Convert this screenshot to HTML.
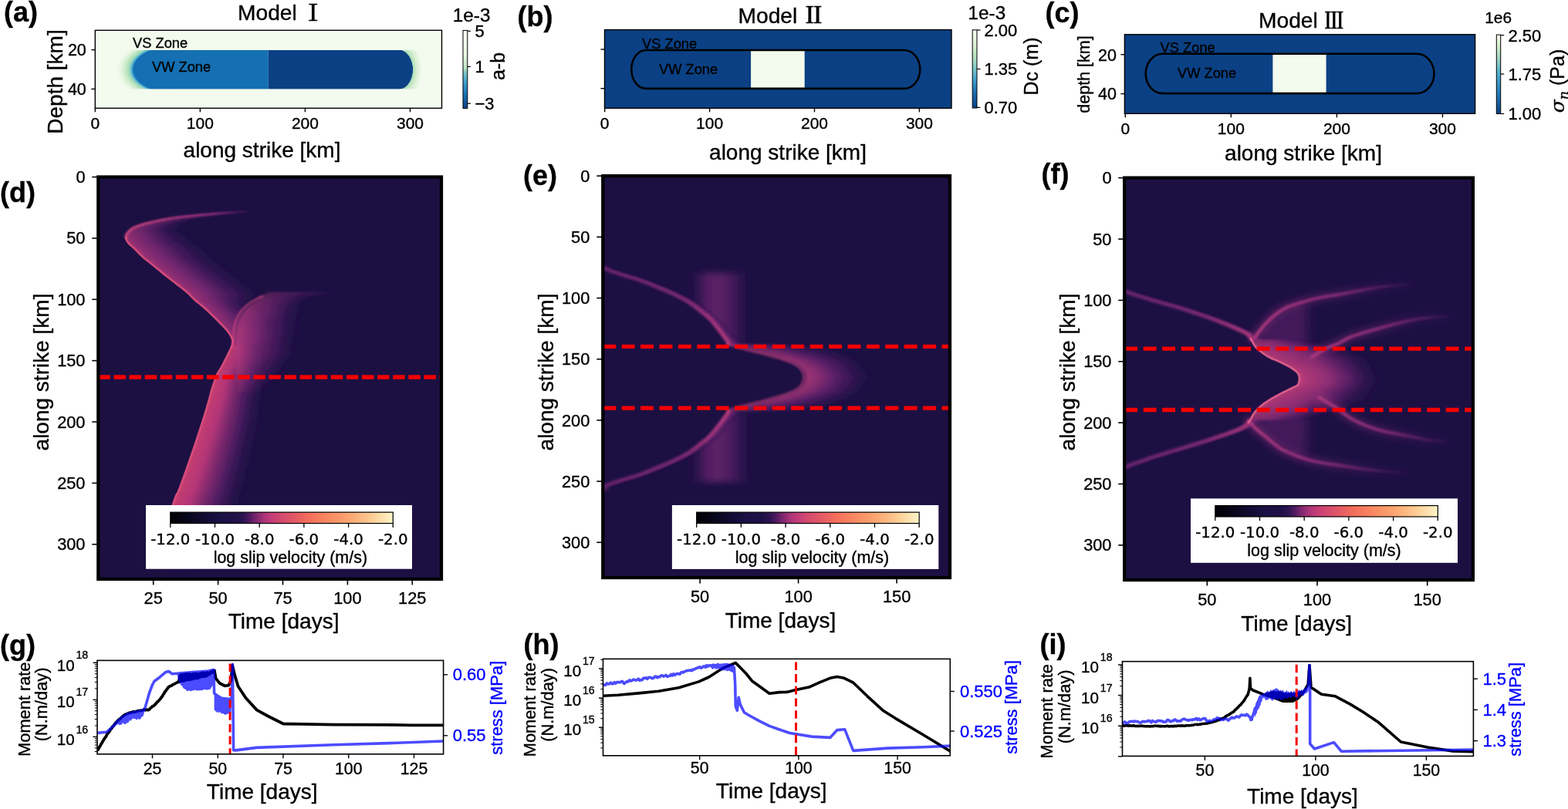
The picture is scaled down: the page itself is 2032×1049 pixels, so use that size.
<!DOCTYPE html>
<html><head><meta charset="utf-8"><title>Figure</title>
<style>html,body{margin:0;padding:0;background:#fff;overflow:hidden}svg{display:block}text{stroke:#000;stroke-width:0.35px}text[fill="#0000ff"]{stroke:#0000ff}</style>
</head><body>
<svg width="2032" height="1049" viewBox="0 0 2032 1049" font-family="Liberation Sans, Arial, sans-serif" fill="#000">
<defs>
<clipPath id="pac"><rect x="123.3" y="39.3" width="449.2" height="101"/></clipPath>
<radialGradient id="gaL" gradientUnits="userSpaceOnUse" cx="223" cy="90.2" r="72" gradientTransform="translate(223 90.2) scale(1 0.59) translate(-223 -90.2)">
<stop offset="0" stop-color="#1470b2"/><stop offset="0.695" stop-color="#1470b2"/><stop offset="0.725" stop-color="#4aafd5"/><stop offset="0.77" stop-color="#9fd8b8"/><stop offset="0.84" stop-color="#c6e9c4"/><stop offset="0.92" stop-color="#e6f5e0"/><stop offset="1" stop-color="#f3faee"/></radialGradient>
<radialGradient id="gaR" gradientUnits="userSpaceOnUse" cx="516.7" cy="90.2" r="30" gradientTransform="translate(516.7 90.2) scale(1 1.4) translate(-516.7 -90.2)">
<stop offset="0" stop-color="#0b4184"/><stop offset="0.6" stop-color="#0b4184"/><stop offset="0.615" stop-color="#a9dcb6"/><stop offset="0.75" stop-color="#d2eccc"/><stop offset="1" stop-color="#f3faee"/></radialGradient>
<clipPath id="pbc"><rect x="783.5" y="38.6" width="449.5" height="101.7"/></clipPath>
<clipPath id="pcc"><rect x="1457.4" y="44.7" width="454.2" height="102.6"/></clipPath>
<linearGradient id="cba" x1="0" y1="1" x2="0" y2="0">
<stop offset="0" stop-color="#0b4184"/><stop offset="0.2" stop-color="#1f78b8"/><stop offset="0.35" stop-color="#44a5cf"/><stop offset="0.46" stop-color="#7cc9c6"/><stop offset="0.52" stop-color="#bfe5c0"/><stop offset="0.7" stop-color="#e8f6e2"/><stop offset="1" stop-color="#f7fcf0"/></linearGradient>
<linearGradient id="cbb" x1="0" y1="1" x2="0" y2="0">
<stop offset="0" stop-color="#0b4184"/><stop offset="0.2" stop-color="#1d6fb0"/><stop offset="0.35" stop-color="#3c9cca"/><stop offset="0.5" stop-color="#7bc8c6"/><stop offset="0.65" stop-color="#b5e2bd"/><stop offset="0.8" stop-color="#daf0d4"/><stop offset="1" stop-color="#f7fcf0"/></linearGradient>
<linearGradient id="cbc" x1="0" y1="1" x2="0" y2="0">
<stop offset="0" stop-color="#0b4184"/><stop offset="0.25" stop-color="#1f78b8"/><stop offset="0.5" stop-color="#4aaed1"/><stop offset="0.7" stop-color="#9dd6c0"/><stop offset="0.85" stop-color="#d2edcc"/><stop offset="1" stop-color="#f7fcf0"/></linearGradient>
<linearGradient id="cbm" x1="0" y1="0" x2="1" y2="0"><stop offset="0" stop-color="#000004"/><stop offset="0.08" stop-color="#07061a"/><stop offset="0.16" stop-color="#120c34"/><stop offset="0.22" stop-color="#1a1044"/><stop offset="0.3" stop-color="#201149"/><stop offset="0.33" stop-color="#2e1452"/><stop offset="0.36" stop-color="#531b62"/><stop offset="0.39" stop-color="#832872"/><stop offset="0.42" stop-color="#a93378"/><stop offset="0.45" stop-color="#c13c79"/><stop offset="0.5" stop-color="#d44a70"/><stop offset="0.56" stop-color="#e35a66"/><stop offset="0.62" stop-color="#f26d5c"/><stop offset="0.7" stop-color="#f98661"/><stop offset="0.8" stop-color="#fca46f"/><stop offset="0.9" stop-color="#fdcb92"/><stop offset="1" stop-color="#fdf5c8"/></linearGradient>
<linearGradient id="wA" x1="0" y1="0" x2="1" y2="0"><stop offset="0" stop-color="#e04d70"/><stop offset="0.03" stop-color="#cb3f74"/><stop offset="0.22" stop-color="#bc387a"/><stop offset="0.42" stop-color="#80286f"/><stop offset="0.65" stop-color="#461a5e"/><stop offset="1" stop-color="#1c1043" stop-opacity="0"/></linearGradient>
<linearGradient id="wB" x1="0" y1="0" x2="1" y2="0"><stop offset="0" stop-color="#c2407e"/><stop offset="0.1" stop-color="#a8337c"/><stop offset="0.4" stop-color="#6d2472"/><stop offset="0.7" stop-color="#3c1658" stop-opacity="0.8"/><stop offset="1" stop-color="#1c1043" stop-opacity="0"/></linearGradient>
<linearGradient id="wC" x1="0" y1="0" x2="1" y2="0"><stop offset="0" stop-color="#b03a7c" stop-opacity="0"/><stop offset="0.08" stop-color="#b43a7c"/><stop offset="0.35" stop-color="#8a2c78"/><stop offset="0.65" stop-color="#4c1a60"/><stop offset="1" stop-color="#1c1043" stop-opacity="0"/></linearGradient>
<linearGradient id="gC" x1="0" y1="0" x2="1" y2="0"><stop offset="0" stop-color="#1c1043" stop-opacity="0"/><stop offset="0.3" stop-color="#6a2370"/><stop offset="0.5" stop-color="#762a74"/><stop offset="0.75" stop-color="#4c1b62"/><stop offset="1" stop-color="#1c1043" stop-opacity="0"/></linearGradient>
<linearGradient id="wD" x1="0" y1="0" x2="1" y2="0"><stop offset="0" stop-color="#c0407e"/><stop offset="0.06" stop-color="#a2327a"/><stop offset="0.3" stop-color="#7a2874"/><stop offset="0.6" stop-color="#45195e" stop-opacity="0.85"/><stop offset="1" stop-color="#1c1043" stop-opacity="0"/></linearGradient>
<linearGradient id="wF" x1="0" y1="0" x2="1" y2="0"><stop offset="0" stop-color="#9a3079" stop-opacity="0.3"/><stop offset="0.05" stop-color="#b23a7c"/><stop offset="0.18" stop-color="#a3337b"/><stop offset="0.42" stop-color="#6a2372"/><stop offset="0.7" stop-color="#3e1659" stop-opacity="0.8"/><stop offset="1" stop-color="#1c1043" stop-opacity="0"/></linearGradient>
<linearGradient id="wE" x1="0" y1="0" x2="1" y2="0"><stop offset="0" stop-color="#d44a7c"/><stop offset="0.06" stop-color="#be3b7c"/><stop offset="0.35" stop-color="#9a3079"/><stop offset="0.62" stop-color="#5c1e68" stop-opacity="0.9"/><stop offset="1" stop-color="#1c1043" stop-opacity="0"/></linearGradient>
<clipPath id="clipd"><rect x="127.3" y="229.5" width="444.7" height="521.4"/></clipPath>
<filter id="bl0" x="-20%" y="-20%" width="140%" height="140%"><feGaussianBlur stdDeviation="0.5 0.9"/></filter>
<filter id="bl1" x="-20%" y="-20%" width="140%" height="140%"><feGaussianBlur stdDeviation="1.2 1.2"/></filter>
<filter id="bl2" x="-20%" y="-20%" width="140%" height="140%"><feGaussianBlur stdDeviation="1.0"/></filter>
<linearGradient id="dua" gradientUnits="userSpaceOnUse" x1="325" y1="0" x2="163" y2="0"><stop offset="0" stop-color="#6a2470" stop-opacity="0"/><stop offset="0.3" stop-color="#8a2c78"/><stop offset="1" stop-color="#d04880"/></linearGradient>
<filter id="bl3" x="-20%" y="-20%" width="140%" height="140%"><feGaussianBlur stdDeviation="0.8"/></filter>
<filter id="bl4" x="-20%" y="-20%" width="140%" height="140%"><feGaussianBlur stdDeviation="0.6"/></filter>
<clipPath id="clipe"><rect x="781.3" y="228.1" width="449.7" height="520.9"/></clipPath>
<clipPath id="ecr"><path d="M781 347.5 L781.27 347.64 L781.52 347.78 L782 348.02 L783.01 348.43 L784.8 349.1 L787.55 350.09 L791.07 351.35 L795.12 352.78 L799.44 354.26 L803.8 355.7 L808.19 357.03 L812.78 358.34 L817.57 359.69 L822.54 361.18 L827.7 362.9 L833.28 364.96 L839.28 367.31 L845.35 369.77 L851.14 372.16 L856.3 374.3 L860.68 376.12 L864.51 377.73 L868.02 379.25 L871.44 380.8 L875 382.5 L878.78 384.37 L882.64 386.33 L886.44 388.35 L890.06 390.39 L893.4 392.4 L896.36 394.38 L899.01 396.34 L901.5 398.32 L903.95 400.33 L906.5 402.4 L909.18 404.51 L911.9 406.63 L914.61 408.81 L917.26 411.09 L919.8 413.5 L922.26 416.14 L924.66 418.98 L926.98 421.89 L929.17 424.71 L931.2 427.3 L933.07 429.7 L934.81 431.99 L936.41 434.14 L937.84 436.09 L939.1 437.8 L940.12 439.2 L940.91 440.31 L941.56 441.25 L942.16 442.11 L942.8 443 L943.19 443.87 L943.28 444.66 L943.48 445.42 L944.25 446.25 L946 447.2 L948.92 448.31 L952.73 449.52 L957.15 450.8 L961.9 452.1 L966.7 453.4 L971.66 454.67 L976.95 455.94 L982.43 457.23 L987.96 458.58 L993.4 460 L998.95 461.55 L1004.72 463.2 L1010.38 464.9 L1015.61 466.55 L1020.1 468.1 L1023.74 469.49 L1026.74 470.78 L1029.27 472.03 L1031.47 473.31 L1033.5 474.7 L1035.34 476.23 L1036.88 477.87 L1038.16 479.53 L1039.22 481.17 L1040.1 482.7 L1040.76 484.11 L1041.17 485.44 L1041.39 486.73 L1041.48 488 L1041.5 489.3 L1041.48 490.6 L1041.39 491.87 L1041.17 493.16 L1040.76 494.49 L1040.1 495.9 L1039.22 497.43 L1038.16 499.07 L1036.88 500.73 L1035.34 502.37 L1033.5 503.9 L1031.47 505.29 L1029.27 506.57 L1026.74 507.82 L1023.74 509.11 L1020.1 510.5 L1015.61 512.05 L1010.38 513.7 L1004.72 515.4 L998.95 517.05 L993.4 518.6 L987.96 520.02 L982.43 521.37 L976.95 522.66 L971.66 523.93 L966.7 525.2 L961.9 526.5 L957.15 527.8 L952.73 529.08 L948.92 530.29 L946 531.4 L944.25 532.35 L943.48 533.18 L943.28 533.94 L943.19 534.73 L942.8 535.6 L942.16 536.49 L941.56 537.35 L940.91 538.29 L940.12 539.4 L939.1 540.8 L937.84 542.51 L936.41 544.46 L934.81 546.61 L933.07 548.9 L931.2 551.3 L929.17 553.89 L926.98 556.71 L924.66 559.62 L922.26 562.46 L919.8 565.1 L917.26 567.51 L914.61 569.79 L911.9 571.97 L909.18 574.09 L906.5 576.2 L903.95 578.27 L901.5 580.28 L899.01 582.26 L896.36 584.22 L893.4 586.2 L890.06 588.21 L886.44 590.25 L882.64 592.27 L878.78 594.23 L875 596.1 L871.44 597.8 L868.02 599.35 L864.51 600.87 L860.68 602.48 L856.3 604.3 L851.14 606.44 L845.35 608.83 L839.28 611.29 L833.28 613.64 L827.7 615.7 L822.54 617.42 L817.57 618.91 L812.78 620.26 L808.19 621.57 L803.8 622.9 L799.44 624.34 L795.12 625.82 L791.07 627.25 L787.55 628.51 L784.8 629.5 L783.01 630.17 L782 630.58 L781.52 630.82 L781.27 630.96 L781 631.1 L1240 631.1 L1240 347.5 Z"/></clipPath>
<filter id="bl5" x="-20%" y="-20%" width="140%" height="140%"><feGaussianBlur stdDeviation="5 4"/></filter>
<filter id="bl6" x="-20%" y="-20%" width="140%" height="140%"><feGaussianBlur stdDeviation="1.0 1.2"/></filter>
<filter id="bl7" x="-20%" y="-20%" width="140%" height="140%"><feGaussianBlur stdDeviation="1.6 1.4"/></filter>
<linearGradient id="eln" gradientUnits="userSpaceOnUse" x1="781" y1="0" x2="946" y2="0"><stop offset="0" stop-color="#6a2470"/><stop offset="0.6" stop-color="#7c2a74"/><stop offset="1" stop-color="#b53c7e"/></linearGradient>
<filter id="bl8" x="-20%" y="-20%" width="140%" height="140%"><feGaussianBlur stdDeviation="1.4"/></filter>
<filter id="bl9" x="-20%" y="-20%" width="140%" height="140%"><feGaussianBlur stdDeviation="1.6"/></filter>
<clipPath id="clipf"><rect x="1457.2" y="230.6" width="451.7" height="521.4"/></clipPath>
<filter id="bl10" x="-20%" y="-20%" width="140%" height="140%"><feGaussianBlur stdDeviation="7"/></filter>
<filter id="bl11" x="-20%" y="-20%" width="140%" height="140%"><feGaussianBlur stdDeviation="0.8 1.2"/></filter>
<linearGradient id="fa0" gradientUnits="userSpaceOnUse" x1="1626" y1="0" x2="1840" y2="0"><stop offset="0" stop-color="#a8387c"/><stop offset="0.5" stop-color="#8a2c78" stop-opacity="0.85"/><stop offset="1" stop-color="#6a2270" stop-opacity="0"/></linearGradient>
<filter id="bl12" x="-20%" y="-20%" width="140%" height="140%"><feGaussianBlur stdDeviation="4"/></filter>
<filter id="bl13" x="-20%" y="-20%" width="140%" height="140%"><feGaussianBlur stdDeviation="1.2"/></filter>
<linearGradient id="fa1" gradientUnits="userSpaceOnUse" x1="1700" y1="0" x2="1890" y2="0"><stop offset="0" stop-color="#a8387c"/><stop offset="0.5" stop-color="#8a2c78" stop-opacity="0.85"/><stop offset="1" stop-color="#6a2270" stop-opacity="0"/></linearGradient>
<linearGradient id="fa2" gradientUnits="userSpaceOnUse" x1="1618" y1="0" x2="1830" y2="0"><stop offset="0" stop-color="#a8387c"/><stop offset="0.5" stop-color="#8a2c78" stop-opacity="0.85"/><stop offset="1" stop-color="#6a2270" stop-opacity="0"/></linearGradient>
<linearGradient id="fa3" gradientUnits="userSpaceOnUse" x1="1709.6" y1="0" x2="1885" y2="0"><stop offset="0" stop-color="#a8387c"/><stop offset="0.5" stop-color="#8a2c78" stop-opacity="0.85"/><stop offset="1" stop-color="#6a2270" stop-opacity="0"/></linearGradient>
<linearGradient id="fln" gradientUnits="userSpaceOnUse" x1="1457" y1="0" x2="1625" y2="0"><stop offset="0" stop-color="#6a2470"/><stop offset="0.6" stop-color="#7c2a74"/><stop offset="1" stop-color="#b53c7e"/></linearGradient>
<filter id="bl14" x="-20%" y="-20%" width="140%" height="140%"><feGaussianBlur stdDeviation="0.5"/></filter>
<clipPath id="clipg"><rect x="126" y="856.4" width="448.6" height="121.4"/></clipPath>
<clipPath id="cliph"><rect x="781.5" y="854.4" width="449.8" height="125.4"/></clipPath>
<clipPath id="clipi"><rect x="1454.5" y="857.7" width="454.9" height="122.7"/></clipPath>
</defs>
<rect x="0" y="0" width="2032" height="1049" fill="#fff"/>
<g clip-path="url(#pac)">
<rect x="123.3" y="39.3" width="449.2" height="101" fill="#f3faee" />
<rect x="140" y="65" width="83.5" height="50.4" fill="url(#gaL)" />
<rect x="223" y="65" width="124.8" height="50.4" fill="#1470b2" />
<rect x="347.8" y="65" width="169.2" height="50.4" fill="#0b4184" />
<rect x="516.7" y="65" width="43.3" height="50.4" fill="url(#gaR)" />
</g>
<rect x="123.3" y="39.3" width="449.2" height="101" fill="none" stroke="#000" stroke-width="1.4" />
<g clip-path="url(#pbc)">
<rect x="783.5" y="38.6" width="449.5" height="101.7" fill="#0b4184" />
<rect x="973.1" y="65.6" width="69.6" height="48.8" fill="#f3faee" />
<path d="M837.2 65 L1171.7 65 A20.6 24.95 0 0 1 1171.7 114.9 L837.2 114.9 A18.9 24.95 0 0 1 837.2 65 Z" fill="none" stroke="#000" stroke-width="2.6"/>
</g>
<rect x="783.5" y="38.6" width="449.5" height="101.7" fill="none" stroke="#000" stroke-width="1.4" />
<g clip-path="url(#pcc)">
<rect x="1457.4" y="44.7" width="454.2" height="102.6" fill="#0b4184" />
<rect x="1649.4" y="70.6" width="69.2" height="49.7" fill="#f3faee" />
<path d="M1506.7 69.8 L1836 69.8 A22.5 25.65 0 0 1 1836 121.1 L1506.7 121.1 A22 25.65 0 0 1 1506.7 69.8 Z" fill="none" stroke="#000" stroke-width="2.6"/>
</g>
<rect x="1457.4" y="44.7" width="454.2" height="102.6" fill="none" stroke="#000" stroke-width="1.4" />
<line x1="123.3" y1="140.3" x2="123.3" y2="145.3" stroke="#000" stroke-width="1.4" />
<text x="123.3" y="166.6" font-size="21" text-anchor="middle">0</text>
<line x1="259.36" y1="140.3" x2="259.36" y2="145.3" stroke="#000" stroke-width="1.4" />
<text x="259.36" y="166.6" font-size="21" text-anchor="middle">100</text>
<line x1="395.42" y1="140.3" x2="395.42" y2="145.3" stroke="#000" stroke-width="1.4" />
<text x="395.42" y="166.6" font-size="21" text-anchor="middle">200</text>
<line x1="531.48" y1="140.3" x2="531.48" y2="145.3" stroke="#000" stroke-width="1.4" />
<text x="531.48" y="166.6" font-size="21" text-anchor="middle">300</text>
<line x1="118.3" y1="64.6" x2="123.3" y2="64.6" stroke="#000" stroke-width="1.4" />
<text x="111.8" y="72.4" font-size="21.5" text-anchor="end">20</text>
<line x1="118.3" y1="115.4" x2="123.3" y2="115.4" stroke="#000" stroke-width="1.4" />
<text x="111.8" y="123.2" font-size="21.5" text-anchor="end">40</text>
<text x="81" y="106" font-size="28" text-anchor="middle" transform="rotate(-90 81 106)">Depth [km]</text>
<text x="339.5" y="203.8" font-size="28" text-anchor="middle">along strike [km]</text>
<text x="172" y="62.3" font-size="18.3">VS Zone</text>
<text x="197" y="92.7" font-size="18.3">VW Zone</text>
<text x="308" y="26.2" font-size="28.2">Model</text>
<text x="391.4" y="27" font-size="28.5" font-family="'Liberation Sans', 'Noto Serif CJK SC', serif" font-weight="600">Ⅰ</text>
<text x="5" y="27.5" font-size="36" font-weight="bold">(a)</text>
<rect x="600" y="39.4" width="5.8" height="101.1" fill="url(#cba)" stroke="#000" stroke-width="1" />
<line x1="605.8" y1="40.3" x2="610" y2="40.3" stroke="#000" stroke-width="1.2" />
<text x="615.5" y="48.1" font-size="22">5</text>
<line x1="605.8" y1="86.4" x2="610" y2="86.4" stroke="#000" stroke-width="1.2" />
<text x="615.5" y="94.2" font-size="22">1</text>
<line x1="605.8" y1="134.2" x2="610" y2="134.2" stroke="#000" stroke-width="1.2" />
<text x="615.5" y="142" font-size="22">−3</text>
<text x="586.8" y="27.8" font-size="24.3">1e-3</text>
<text x="654" y="86" font-size="25" text-anchor="middle" transform="rotate(-90 654 86)">a-b</text>
<line x1="783.7" y1="140.3" x2="783.7" y2="145.3" stroke="#000" stroke-width="1.4" />
<text x="783.7" y="166.6" font-size="21" text-anchor="middle">0</text>
<line x1="919.61" y1="140.3" x2="919.61" y2="145.3" stroke="#000" stroke-width="1.4" />
<text x="919.61" y="166.6" font-size="21" text-anchor="middle">100</text>
<line x1="1055.52" y1="140.3" x2="1055.52" y2="145.3" stroke="#000" stroke-width="1.4" />
<text x="1055.52" y="166.6" font-size="21" text-anchor="middle">200</text>
<line x1="1191.43" y1="140.3" x2="1191.43" y2="145.3" stroke="#000" stroke-width="1.4" />
<text x="1191.43" y="166.6" font-size="21" text-anchor="middle">300</text>
<line x1="778.5" y1="64" x2="783.5" y2="64" stroke="#000" stroke-width="1.4" />
<line x1="778.5" y1="114.7" x2="783.5" y2="114.7" stroke="#000" stroke-width="1.4" />
<text x="1021" y="207.3" font-size="28" text-anchor="middle">along strike [km]</text>
<text x="832" y="62.5" font-size="18.3">VS Zone</text>
<text x="854" y="96" font-size="18.3">VW Zone</text>
<text x="956.5" y="29.9" font-size="28.2">Model</text>
<text x="1039.8" y="30.4" font-size="29.5" font-family="'Liberation Sans', 'Noto Serif CJK SC', serif" font-weight="600">Ⅱ</text>
<text x="670.5" y="34" font-size="36" font-weight="bold">(b)</text>
<rect x="1260.2" y="38.8" width="5.8" height="101.2" fill="url(#cbb)" stroke="#000" stroke-width="1" />
<line x1="1266" y1="39" x2="1270.5" y2="39" stroke="#000" stroke-width="1.2" />
<text x="1275.5" y="46.8" font-size="22">2.00</text>
<line x1="1266" y1="89.5" x2="1270.5" y2="89.5" stroke="#000" stroke-width="1.2" />
<text x="1275.5" y="97.3" font-size="22">1.35</text>
<line x1="1266" y1="139.4" x2="1270.5" y2="139.4" stroke="#000" stroke-width="1.2" />
<text x="1275.5" y="147.2" font-size="22">0.70</text>
<text x="1254.6" y="25.4" font-size="24.3">1e-3</text>
<text x="1345.3" y="86" font-size="25" text-anchor="middle" transform="rotate(-90 1345.3 86)">Dc (m)</text>
<line x1="1458.3" y1="147.3" x2="1458.3" y2="152.3" stroke="#000" stroke-width="1.4" />
<text x="1458.3" y="173.6" font-size="21" text-anchor="middle">0</text>
<line x1="1595.35" y1="147.3" x2="1595.35" y2="152.3" stroke="#000" stroke-width="1.4" />
<text x="1595.35" y="173.6" font-size="21" text-anchor="middle">100</text>
<line x1="1732.4" y1="147.3" x2="1732.4" y2="152.3" stroke="#000" stroke-width="1.4" />
<text x="1732.4" y="173.6" font-size="21" text-anchor="middle">200</text>
<line x1="1869.45" y1="147.3" x2="1869.45" y2="152.3" stroke="#000" stroke-width="1.4" />
<text x="1869.45" y="173.6" font-size="21" text-anchor="middle">300</text>
<line x1="1452.4" y1="70.7" x2="1457.4" y2="70.7" stroke="#000" stroke-width="1.4" />
<text x="1447" y="78.5" font-size="21.5" text-anchor="end">20</text>
<line x1="1452.4" y1="121.6" x2="1457.4" y2="121.6" stroke="#000" stroke-width="1.4" />
<text x="1447" y="129.4" font-size="21.5" text-anchor="end">40</text>
<text x="1411.5" y="96.5" font-size="21.5" text-anchor="middle" transform="rotate(-90 1411.5 96.5)">depth [km]</text>
<text x="1689" y="207.5" font-size="28" text-anchor="middle">along strike [km]</text>
<text x="1503.6" y="67.5" font-size="18.3">VS Zone</text>
<text x="1526" y="101.3" font-size="18.3">VW Zone</text>
<text x="1631" y="36.2" font-size="28.2">Model</text>
<text x="1716.2" y="36.7" font-size="28.5" font-family="'Liberation Sans', 'Noto Serif CJK SC', serif" font-weight="600" textLength="25" lengthAdjust="spacingAndGlyphs">Ⅲ</text>
<text x="1354.5" y="29" font-size="36" font-weight="bold">(c)</text>
<rect x="1939.3" y="45.1" width="5.4" height="102.4" fill="url(#cbc)" stroke="#000" stroke-width="1" />
<line x1="1944.7" y1="45.7" x2="1949.2" y2="45.7" stroke="#000" stroke-width="1.2" />
<text x="1954.5" y="53.5" font-size="22">2.50</text>
<line x1="1944.7" y1="96" x2="1949.2" y2="96" stroke="#000" stroke-width="1.2" />
<text x="1954.5" y="103.8" font-size="22">1.75</text>
<line x1="1944.7" y1="147.5" x2="1949.2" y2="147.5" stroke="#000" stroke-width="1.2" />
<text x="1954.5" y="155.3" font-size="22">1.00</text>
<text x="1924.3" y="29.6" font-size="20.8">1e6</text>
<text x="2027" y="105" font-size="25" text-anchor="middle" transform="rotate(-90 2027 105)"><tspan font-family="'DejaVu Serif', serif" font-style="italic">σ</tspan><tspan font-family="'DejaVu Serif', serif" font-style="italic" font-size="17.5" dy="4.5">n</tspan><tspan dy="-4.5"> (Pa)</tspan></text>
<g clip-path="url(#clipd)">
<rect x="127.3" y="229.5" width="444.7" height="521.4" fill="#1c1043" />
<g fill="url(#wD)" filter="url(#bl0)">
<rect x="311.41" y="274" width="15.62" height="1.7" opacity="0.21"/>
<rect x="288.71" y="275.5" width="25.94" height="1.7" opacity="0.31"/>
<rect x="270.81" y="277" width="31.56" height="1.7" opacity="0.34"/>
<rect x="254.27" y="278.5" width="37.19" height="1.7" opacity="0.38"/>
<rect x="239.98" y="280" width="41.5" height="1.7" opacity="0.42"/>
<rect x="227.61" y="281.5" width="44.5" height="1.7" opacity="0.45"/>
<rect x="217.65" y="283" width="47.5" height="1.7" opacity="0.47"/>
<rect x="209.66" y="284.5" width="50.43" height="1.7" opacity="0.5"/>
<rect x="202.53" y="286" width="53" height="1.7" opacity="0.53"/>
<rect x="195.78" y="287.5" width="55.57" height="1.7" opacity="0.55"/>
<rect x="189.6" y="289" width="58.14" height="1.7" opacity="0.57"/>
<rect x="184.11" y="290.5" width="60.71" height="1.7" opacity="0.59"/>
<rect x="179.49" y="292" width="63.22" height="1.7" opacity="0.61"/>
<rect x="175.61" y="293.5" width="65.66" height="1.7" opacity="0.64"/>
<rect x="172.37" y="295" width="68.09" height="1.7" opacity="0.67"/>
<rect x="170.1" y="296.5" width="70.53" height="1.7" opacity="0.7"/>
<rect x="168.27" y="298" width="72.97" height="1.7" opacity="0.73"/>
<rect x="166.7" y="299.5" width="75.62" height="1.7" opacity="0.75"/>
<rect x="165.37" y="301" width="79.38" height="1.7" opacity="0.78"/>
<rect x="164.27" y="302.5" width="83.12" height="1.7" opacity="0.8"/>
<rect x="163.42" y="304" width="86.88" height="1.7" opacity="0.83"/>
<rect x="162.96" y="305.5" width="90.18" height="1.7" opacity="0.85"/>
<rect x="163.06" y="307" width="91.25" height="1.7" opacity="0.86"/>
<rect x="163.34" y="308.5" width="92.32" height="1.7" opacity="0.86"/>
<rect x="163.76" y="310" width="93.39" height="1.7" opacity="0.87"/>
<rect x="164.38" y="311.5" width="94.46" height="1.7" opacity="0.87"/>
<rect x="165.29" y="313" width="95.54" height="1.7" opacity="0.88"/>
<rect x="166.42" y="314.5" width="96.61" height="1.7" opacity="0.88"/>
<rect x="167.76" y="316" width="97.68" height="1.7" opacity="0.89"/>
<rect x="169.49" y="317.5" width="98.75" height="1.7" opacity="0.89"/>
<rect x="171.43" y="319" width="99.82" height="1.7" opacity="0.9"/>
<rect x="173.05" y="320.5" width="100" height="1.7" opacity="0.9"/>
<rect x="174.56" y="322" width="100" height="1.7" opacity="0.9"/>
<rect x="176.02" y="323.5" width="100" height="1.7" opacity="0.9"/>
<rect x="177.48" y="325" width="100" height="1.7" opacity="0.9"/>
<rect x="178.94" y="326.5" width="100" height="1.7" opacity="0.9"/>
<rect x="180.42" y="328" width="100" height="1.7" opacity="0.9"/>
<rect x="181.92" y="329.5" width="100" height="1.7" opacity="0.9"/>
<rect x="183.49" y="331" width="100" height="1.7" opacity="0.9"/>
<rect x="185.12" y="332.5" width="100" height="1.7" opacity="0.9"/>
<rect x="186.84" y="334" width="100" height="1.7" opacity="0.9"/>
<rect x="188.69" y="335.5" width="100" height="1.7" opacity="0.9"/>
<rect x="190.6" y="337" width="100" height="1.7" opacity="0.9"/>
<rect x="192.52" y="338.5" width="100" height="1.7" opacity="0.9"/>
<rect x="194.43" y="340" width="100" height="1.7" opacity="0.9"/>
<rect x="196.31" y="341.5" width="100" height="1.7" opacity="0.9"/>
<rect x="198.15" y="343" width="100" height="1.7" opacity="0.9"/>
<rect x="199.97" y="344.5" width="100" height="1.7" opacity="0.9"/>
<rect x="201.79" y="346" width="100" height="1.7" opacity="0.9"/>
<rect x="203.6" y="347.5" width="100" height="1.7" opacity="0.9"/>
<rect x="205.42" y="349" width="100" height="1.7" opacity="0.9"/>
<rect x="207.24" y="350.5" width="100" height="1.7" opacity="0.9"/>
<rect x="209.06" y="352" width="100" height="1.7" opacity="0.9"/>
<rect x="210.89" y="353.5" width="100" height="1.7" opacity="0.9"/>
<rect x="212.75" y="355" width="100" height="1.7" opacity="0.9"/>
<rect x="214.62" y="356.5" width="100" height="1.7" opacity="0.9"/>
<rect x="216.53" y="358" width="100" height="1.7" opacity="0.9"/>
<rect x="218.46" y="359.5" width="100" height="1.7" opacity="0.9"/>
<rect x="220.42" y="361" width="100" height="1.7" opacity="0.9"/>
<rect x="222.4" y="362.5" width="100" height="1.7" opacity="0.9"/>
<rect x="224.37" y="364" width="100" height="1.7" opacity="0.9"/>
<rect x="226.34" y="365.5" width="100" height="1.7" opacity="0.9"/>
<rect x="228.28" y="367" width="100" height="1.7" opacity="0.9"/>
<rect x="230.21" y="368.5" width="100" height="1.7" opacity="0.9"/>
<rect x="232.13" y="370" width="100" height="1.7" opacity="0.9"/>
<rect x="234.07" y="371.5" width="100" height="1.7" opacity="0.9"/>
<rect x="235.98" y="373" width="100" height="1.7" opacity="0.9"/>
<rect x="237.88" y="374.5" width="100" height="1.7" opacity="0.9"/>
<rect x="239.74" y="376" width="100" height="1.7" opacity="0.9"/>
<rect x="241.54" y="377.5" width="100" height="1.7" opacity="0.9"/>
<rect x="243.28" y="379" width="100" height="1.7" opacity="0.9"/>
<rect x="244.89" y="380.5" width="97.92" height="1.7" opacity="0.9"/>
<rect x="246.35" y="382" width="95.42" height="1.7" opacity="0.9"/>
<rect x="247.74" y="383.5" width="92.92" height="1.7" opacity="0.9"/>
<rect x="249.16" y="385" width="90.42" height="1.7" opacity="0.9"/>
<rect x="250.68" y="386.5" width="87.92" height="1.7" opacity="0.9"/>
<rect x="252.29" y="388" width="85.42" height="1.7" opacity="0.9"/>
<rect x="254.05" y="389.5" width="82.92" height="1.7" opacity="0.9"/>
<rect x="255.87" y="391" width="80.42" height="1.7" opacity="0.9"/>
<rect x="257.73" y="392.5" width="77.92" height="1.7" opacity="0.9"/>
<rect x="259.59" y="394" width="75.42" height="1.7" opacity="0.9"/>
<rect x="261.43" y="395.5" width="74.52" height="1.7" opacity="0.9"/>
<rect x="263.21" y="397" width="73.94" height="1.7" opacity="0.9"/>
<rect x="264.95" y="398.5" width="73.37" height="1.7" opacity="0.9"/>
<rect x="266.61" y="400" width="72.79" height="1.7" opacity="0.89"/>
<rect x="268.26" y="401.5" width="72.21" height="1.7" opacity="0.89"/>
<rect x="269.84" y="403" width="71.63" height="1.7" opacity="0.89"/>
<rect x="271.41" y="404.5" width="71.06" height="1.7" opacity="0.89"/>
<rect x="272.98" y="406" width="70.48" height="1.7" opacity="0.89"/>
<rect x="274.52" y="407.5" width="69.9" height="1.7" opacity="0.89"/>
<rect x="276.06" y="409" width="69.33" height="1.7" opacity="0.89"/>
<rect x="277.6" y="410.5" width="68.75" height="1.7" opacity="0.88"/>
<rect x="279.11" y="412" width="68.17" height="1.7" opacity="0.88"/>
<rect x="280.62" y="413.5" width="67.6" height="1.7" opacity="0.88"/>
<rect x="282.12" y="415" width="67.02" height="1.7" opacity="0.88"/>
<rect x="283.62" y="416.5" width="66.44" height="1.7" opacity="0.88"/>
<rect x="285.08" y="418" width="65.87" height="1.7" opacity="0.88"/>
<rect x="286.55" y="419.5" width="65.29" height="1.7" opacity="0.88"/>
<rect x="288.01" y="421" width="64.71" height="1.7" opacity="0.87"/>
<rect x="289.42" y="422.5" width="64.13" height="1.7" opacity="0.87"/>
<rect x="290.82" y="424" width="63.56" height="1.7" opacity="0.87"/>
<rect x="292.19" y="425.5" width="62.98" height="1.7" opacity="0.87"/>
<rect x="293.48" y="427" width="62.4" height="1.7" opacity="0.87"/>
<rect x="294.74" y="428.5" width="61.83" height="1.7" opacity="0.87"/>
<rect x="295.89" y="430" width="61.25" height="1.7" opacity="0.87"/>
<rect x="296.97" y="431.5" width="60.67" height="1.7" opacity="0.86"/>
<rect x="297.96" y="433" width="60.1" height="1.7" opacity="0.86"/>
<rect x="298.82" y="434.5" width="59.52" height="1.7" opacity="0.86"/>
<rect x="299.62" y="436" width="58.94" height="1.7" opacity="0.86"/>
<rect x="300.34" y="437.5" width="58.37" height="1.7" opacity="0.86"/>
<rect x="300.94" y="439" width="57.79" height="1.7" opacity="0.86"/>
<rect x="301.31" y="440.5" width="57.21" height="1.7" opacity="0.86"/>
<rect x="301.41" y="442" width="56.63" height="1.7" opacity="0.85"/>
<rect x="301.34" y="443.5" width="56.06" height="1.7" opacity="0.85"/>
<rect x="301.15" y="445" width="55.48" height="1.7" opacity="0.85"/>
<rect x="300.78" y="446.5" width="55" height="1.7" opacity="0.85"/>
</g>
<g fill="url(#wA)" filter="url(#bl0)">
<rect x="300.63" y="447" width="40.49" height="1.7" opacity="0.9"/>
<rect x="300.06" y="448.5" width="41.47" height="1.7" opacity="0.9"/>
<rect x="299.43" y="450" width="42.45" height="1.7" opacity="0.91"/>
<rect x="298.79" y="451.5" width="43.42" height="1.7" opacity="0.91"/>
<rect x="298.13" y="453" width="44.4" height="1.7" opacity="0.91"/>
<rect x="297.4" y="454.5" width="45.38" height="1.7" opacity="0.92"/>
<rect x="296.65" y="456" width="46.36" height="1.7" opacity="0.92"/>
<rect x="295.88" y="457.5" width="47.34" height="1.7" opacity="0.92"/>
<rect x="295.13" y="459" width="48.32" height="1.7" opacity="0.93"/>
<rect x="294.38" y="460.5" width="49.29" height="1.7" opacity="0.93"/>
<rect x="293.63" y="462" width="50.27" height="1.7" opacity="0.93"/>
<rect x="292.89" y="463.5" width="51.25" height="1.7" opacity="0.94"/>
<rect x="292.14" y="465" width="52.23" height="1.7" opacity="0.94"/>
<rect x="291.39" y="466.5" width="53.21" height="1.7" opacity="0.94"/>
<rect x="290.64" y="468" width="54.18" height="1.7" opacity="0.95"/>
<rect x="289.88" y="469.5" width="55.12" height="1.7" opacity="0.95"/>
<rect x="289.11" y="471" width="55.88" height="1.7" opacity="0.95"/>
<rect x="288.34" y="472.5" width="56.62" height="1.7" opacity="0.96"/>
<rect x="287.55" y="474" width="57.38" height="1.7" opacity="0.96"/>
<rect x="286.74" y="475.5" width="58.12" height="1.7" opacity="0.96"/>
<rect x="285.86" y="477" width="58.88" height="1.7" opacity="0.96"/>
<rect x="284.87" y="478.5" width="59.62" height="1.7" opacity="0.97"/>
<rect x="283.84" y="480" width="60.38" height="1.7" opacity="0.97"/>
<rect x="282.89" y="481.5" width="61.12" height="1.7" opacity="0.97"/>
<rect x="282.07" y="483" width="61.88" height="1.7" opacity="0.97"/>
<rect x="281.34" y="484.5" width="62.62" height="1.7" opacity="0.98"/>
<rect x="280.71" y="486" width="63.38" height="1.7" opacity="0.98"/>
<rect x="280.08" y="487.5" width="64.12" height="1.7" opacity="0.98"/>
<rect x="279.51" y="489" width="64.88" height="1.7" opacity="0.98"/>
<rect x="278.94" y="490.5" width="65.62" height="1.7" opacity="0.99"/>
<rect x="278.4" y="492" width="66.38" height="1.7" opacity="0.99"/>
<rect x="277.86" y="493.5" width="67.12" height="1.7" opacity="0.99"/>
<rect x="277.34" y="495" width="67.88" height="1.7" opacity="0.99"/>
<rect x="276.83" y="496.5" width="68.62" height="1.7" opacity="1"/>
<rect x="276.32" y="498" width="69.38" height="1.7" opacity="1"/>
<rect x="275.84" y="499.5" width="70.04" height="1.7" opacity="1"/>
<rect x="275.35" y="501" width="70.29" height="1.7" opacity="1"/>
<rect x="274.89" y="502.5" width="70.54" height="1.7" opacity="1"/>
<rect x="274.44" y="504" width="70.79" height="1.7" opacity="1"/>
<rect x="274.03" y="505.5" width="71.04" height="1.7" opacity="1"/>
<rect x="273.62" y="507" width="71.29" height="1.7" opacity="1"/>
<rect x="273.23" y="508.5" width="71.54" height="1.7" opacity="1"/>
<rect x="272.85" y="510" width="71.79" height="1.7" opacity="1"/>
<rect x="272.46" y="511.5" width="72.04" height="1.7" opacity="1"/>
<rect x="272.07" y="513" width="72.29" height="1.7" opacity="1"/>
<rect x="271.66" y="514.5" width="72.54" height="1.7" opacity="1"/>
<rect x="271.24" y="516" width="72.79" height="1.7" opacity="1"/>
<rect x="270.83" y="517.5" width="73.04" height="1.7" opacity="1"/>
<rect x="270.4" y="519" width="73.29" height="1.7" opacity="1"/>
<rect x="269.97" y="520.5" width="73.54" height="1.7" opacity="1"/>
<rect x="269.53" y="522" width="73.79" height="1.7" opacity="1"/>
<rect x="269.1" y="523.5" width="74.04" height="1.7" opacity="1"/>
<rect x="268.67" y="525" width="74.29" height="1.7" opacity="1"/>
<rect x="268.24" y="526.5" width="74.54" height="1.7" opacity="1"/>
<rect x="267.8" y="528" width="74.79" height="1.7" opacity="1"/>
<rect x="267.36" y="529.5" width="75.04" height="1.7" opacity="1"/>
<rect x="266.92" y="531" width="75.29" height="1.7" opacity="1"/>
<rect x="266.48" y="532.5" width="75.54" height="1.7" opacity="1"/>
<rect x="266.03" y="534" width="75.79" height="1.7" opacity="1"/>
<rect x="265.57" y="535.5" width="76.04" height="1.7" opacity="1"/>
<rect x="265.12" y="537" width="76.29" height="1.7" opacity="1"/>
<rect x="264.66" y="538.5" width="76.54" height="1.7" opacity="1"/>
<rect x="264.2" y="540" width="76.79" height="1.7" opacity="1"/>
<rect x="263.73" y="541.5" width="77.04" height="1.7" opacity="1"/>
<rect x="263.26" y="543" width="77.29" height="1.7" opacity="1"/>
<rect x="262.79" y="544.5" width="77.54" height="1.7" opacity="1"/>
<rect x="262.32" y="546" width="77.79" height="1.7" opacity="1"/>
<rect x="261.83" y="547.5" width="78.04" height="1.7" opacity="1"/>
<rect x="261.35" y="549" width="78.29" height="1.7" opacity="1"/>
<rect x="260.87" y="550.5" width="78.54" height="1.7" opacity="1"/>
<rect x="260.38" y="552" width="78.79" height="1.7" opacity="1"/>
<rect x="259.9" y="553.5" width="79.04" height="1.7" opacity="1"/>
<rect x="259.41" y="555" width="79.29" height="1.7" opacity="1"/>
<rect x="258.92" y="556.5" width="79.54" height="1.7" opacity="1"/>
<rect x="258.43" y="558" width="79.79" height="1.7" opacity="1"/>
<rect x="257.94" y="559.5" width="80.03" height="1.7" opacity="1"/>
<rect x="257.45" y="561" width="80.23" height="1.7" opacity="1"/>
<rect x="256.96" y="562.5" width="80.43" height="1.7" opacity="1"/>
<rect x="256.46" y="564" width="80.63" height="1.7" opacity="1"/>
<rect x="255.97" y="565.5" width="80.83" height="1.7" opacity="1"/>
<rect x="255.47" y="567" width="81.03" height="1.7" opacity="1"/>
<rect x="254.97" y="568.5" width="81.23" height="1.7" opacity="1"/>
<rect x="254.48" y="570" width="81.43" height="1.7" opacity="1"/>
<rect x="253.98" y="571.5" width="81.63" height="1.7" opacity="1"/>
<rect x="253.48" y="573" width="81.83" height="1.7" opacity="1"/>
<rect x="252.98" y="574.5" width="82.03" height="1.7" opacity="1"/>
<rect x="252.47" y="576" width="82.23" height="1.7" opacity="1"/>
<rect x="251.97" y="577.5" width="82.43" height="1.7" opacity="1"/>
<rect x="251.47" y="579" width="82.63" height="1.7" opacity="1"/>
<rect x="250.96" y="580.5" width="82.83" height="1.7" opacity="1"/>
<rect x="250.46" y="582" width="83.03" height="1.7" opacity="1"/>
<rect x="249.95" y="583.5" width="83.23" height="1.7" opacity="1"/>
<rect x="249.44" y="585" width="83.43" height="1.7" opacity="1"/>
<rect x="248.93" y="586.5" width="83.63" height="1.7" opacity="1"/>
<rect x="248.41" y="588" width="83.83" height="1.7" opacity="1"/>
<rect x="247.9" y="589.5" width="84.03" height="1.7" opacity="1"/>
<rect x="247.39" y="591" width="84.23" height="1.7" opacity="1"/>
<rect x="246.87" y="592.5" width="84.43" height="1.7" opacity="1"/>
<rect x="246.35" y="594" width="84.63" height="1.7" opacity="1"/>
<rect x="245.83" y="595.5" width="84.83" height="1.7" opacity="1"/>
<rect x="245.31" y="597" width="85.03" height="1.7" opacity="1"/>
<rect x="244.79" y="598.5" width="85.23" height="1.7" opacity="1"/>
<rect x="244.26" y="600" width="85.43" height="1.7" opacity="1"/>
<rect x="243.74" y="601.5" width="85.63" height="1.7" opacity="1"/>
<rect x="243.21" y="603" width="85.83" height="1.7" opacity="1"/>
<rect x="242.68" y="604.5" width="86.03" height="1.7" opacity="1"/>
<rect x="242.15" y="606" width="86.23" height="1.7" opacity="1"/>
<rect x="241.62" y="607.5" width="86.43" height="1.7" opacity="1"/>
<rect x="241.09" y="609" width="86.63" height="1.7" opacity="1"/>
<rect x="240.55" y="610.5" width="86.83" height="1.7" opacity="1"/>
<rect x="240.02" y="612" width="87.03" height="1.7" opacity="1"/>
<rect x="239.48" y="613.5" width="87.23" height="1.7" opacity="1"/>
<rect x="238.94" y="615" width="87.43" height="1.7" opacity="1"/>
<rect x="238.4" y="616.5" width="87.63" height="1.7" opacity="1"/>
<rect x="237.86" y="618" width="87.83" height="1.7" opacity="1"/>
<rect x="237.33" y="619.5" width="88.03" height="1.7" opacity="1"/>
<rect x="236.78" y="621" width="88.23" height="1.7" opacity="1"/>
<rect x="236.23" y="622.5" width="88.43" height="1.7" opacity="1"/>
<rect x="235.69" y="624" width="88.63" height="1.7" opacity="1"/>
<rect x="235.14" y="625.5" width="88.83" height="1.7" opacity="1"/>
<rect x="234.59" y="627" width="89.03" height="1.7" opacity="1"/>
<rect x="234.04" y="628.5" width="89.23" height="1.7" opacity="1"/>
<rect x="233.49" y="630" width="89.43" height="1.7" opacity="1"/>
<rect x="232.93" y="631.5" width="89.63" height="1.7" opacity="1"/>
<rect x="232.37" y="633" width="89.83" height="1.7" opacity="1"/>
<rect x="231.82" y="634.5" width="90.03" height="1.7" opacity="1"/>
<rect x="231.19" y="636" width="90.23" height="1.7" opacity="1"/>
<rect x="230.55" y="637.5" width="90.43" height="1.7" opacity="1"/>
<rect x="229.78" y="639" width="90.63" height="1.7" opacity="1"/>
<rect x="228.73" y="640.5" width="90.83" height="1.7" opacity="1"/>
<rect x="227.99" y="642" width="91.03" height="1.7" opacity="1"/>
<rect x="227.37" y="643.5" width="91.23" height="1.7" opacity="1"/>
<rect x="226.8" y="645" width="91.43" height="1.7" opacity="1"/>
<rect x="226.3" y="646.5" width="91.63" height="1.7" opacity="1"/>
<rect x="225.81" y="648" width="91.83" height="1.7" opacity="1"/>
<rect x="225.31" y="649.5" width="92.01" height="1.7" opacity="1"/>
<rect x="224.81" y="651" width="92.06" height="1.7" opacity="1"/>
<rect x="224.32" y="652.5" width="92.11" height="1.7" opacity="1"/>
<rect x="223.85" y="654" width="92.16" height="1.7" opacity="1"/>
<rect x="223.39" y="655.5" width="92.22" height="1.7" opacity="1"/>
<rect x="222.93" y="657" width="92.27" height="1.7" opacity="1"/>
<rect x="222.47" y="658.5" width="92.32" height="1.7" opacity="1"/>
<rect x="222.02" y="660" width="92.37" height="1.7" opacity="1"/>
<rect x="221.56" y="661.5" width="92.42" height="1.7" opacity="1"/>
<rect x="221.1" y="663" width="92.47" height="1.7" opacity="1"/>
<rect x="220.64" y="664.5" width="92.53" height="1.7" opacity="1"/>
<rect x="220.18" y="666" width="92.58" height="1.7" opacity="1"/>
<rect x="219.73" y="667.5" width="92.63" height="1.7" opacity="1"/>
<rect x="219.27" y="669" width="92.68" height="1.7" opacity="1"/>
<rect x="218.82" y="670.5" width="92.73" height="1.7" opacity="1"/>
<rect x="218.38" y="672" width="92.78" height="1.7" opacity="1"/>
<rect x="217.93" y="673.5" width="92.84" height="1.7" opacity="1"/>
<rect x="217.48" y="675" width="92.89" height="1.7" opacity="1"/>
<rect x="217.04" y="676.5" width="92.94" height="1.7" opacity="1"/>
<rect x="216.59" y="678" width="92.99" height="1.7" opacity="1"/>
<rect x="216.14" y="679.5" width="93.04" height="1.7" opacity="1"/>
<rect x="215.7" y="681" width="93.09" height="1.7" opacity="1"/>
<rect x="215.25" y="682.5" width="93.15" height="1.7" opacity="1"/>
<rect x="214.81" y="684" width="93.2" height="1.7" opacity="1"/>
<rect x="214.36" y="685.5" width="93.25" height="1.7" opacity="1"/>
<rect x="213.91" y="687" width="93.3" height="1.7" opacity="1"/>
<rect x="213.47" y="688.5" width="93.35" height="1.7" opacity="1"/>
<rect x="213.02" y="690" width="93.41" height="1.7" opacity="1"/>
<rect x="212.58" y="691.5" width="93.46" height="1.7" opacity="1"/>
<rect x="212.13" y="693" width="93.51" height="1.7" opacity="1"/>
<rect x="211.69" y="694.5" width="93.56" height="1.7" opacity="1"/>
<rect x="211.25" y="696" width="93.61" height="1.7" opacity="1"/>
<rect x="210.81" y="697.5" width="93.66" height="1.7" opacity="1"/>
<rect x="210.37" y="699" width="93.72" height="1.7" opacity="1"/>
<rect x="209.92" y="700.5" width="93.77" height="1.7" opacity="1"/>
<rect x="209.48" y="702" width="93.82" height="1.7" opacity="1"/>
<rect x="209.04" y="703.5" width="93.87" height="1.7" opacity="1"/>
<rect x="208.6" y="705" width="93.92" height="1.7" opacity="1"/>
<rect x="208.16" y="706.5" width="93.97" height="1.7" opacity="1"/>
<rect x="207.71" y="708" width="94.03" height="1.7" opacity="1"/>
<rect x="207.27" y="709.5" width="94.08" height="1.7" opacity="1"/>
<rect x="206.83" y="711" width="94.13" height="1.7" opacity="1"/>
<rect x="206.39" y="712.5" width="94.18" height="1.7" opacity="1"/>
<rect x="205.95" y="714" width="94.23" height="1.7" opacity="1"/>
<rect x="205.51" y="715.5" width="94.28" height="1.7" opacity="1"/>
<rect x="205.07" y="717" width="94.34" height="1.7" opacity="1"/>
<rect x="204.63" y="718.5" width="94.39" height="1.7" opacity="1"/>
<rect x="204.18" y="720" width="94.44" height="1.7" opacity="1"/>
<rect x="203.74" y="721.5" width="94.49" height="1.7" opacity="1"/>
<rect x="203.3" y="723" width="94.54" height="1.7" opacity="1"/>
<rect x="202.86" y="724.5" width="94.59" height="1.7" opacity="1"/>
<rect x="202.42" y="726" width="94.65" height="1.7" opacity="1"/>
<rect x="201.98" y="727.5" width="94.7" height="1.7" opacity="1"/>
<rect x="201.54" y="729" width="94.75" height="1.7" opacity="1"/>
<rect x="201.1" y="730.5" width="94.8" height="1.7" opacity="1"/>
<rect x="200.66" y="732" width="94.85" height="1.7" opacity="1"/>
<rect x="200.22" y="733.5" width="94.91" height="1.7" opacity="1"/>
<rect x="199.78" y="735" width="94.96" height="1.7" opacity="1"/>
</g>
<g fill="url(#wC)" filter="url(#bl1)">
<rect x="343.36" y="378.5" width="109.17" height="1.7" opacity="0.3"/>
<rect x="340.11" y="380" width="104.17" height="1.7" opacity="0.33"/>
<rect x="337.26" y="381.5" width="98.33" height="1.7" opacity="0.35"/>
<rect x="335.12" y="383" width="88.33" height="1.7" opacity="0.38"/>
<rect x="333.59" y="384.5" width="79.82" height="1.7" opacity="0.41"/>
<rect x="332.26" y="386" width="78.75" height="1.7" opacity="0.44"/>
<rect x="330.8" y="387.5" width="77.68" height="1.7" opacity="0.47"/>
<rect x="328.93" y="389" width="76.61" height="1.7" opacity="0.5"/>
<rect x="326.61" y="390.5" width="75.54" height="1.7" opacity="0.53"/>
<rect x="324.18" y="392" width="75.58" height="1.7" opacity="0.56"/>
<rect x="322.02" y="393.5" width="76.73" height="1.7" opacity="0.58"/>
<rect x="320.13" y="395" width="77.88" height="1.7" opacity="0.59"/>
<rect x="318.4" y="396.5" width="79.04" height="1.7" opacity="0.61"/>
<rect x="316.78" y="398" width="80.19" height="1.7" opacity="0.63"/>
<rect x="315.29" y="399.5" width="81.35" height="1.7" opacity="0.65"/>
<rect x="313.86" y="401" width="82.5" height="1.7" opacity="0.66"/>
<rect x="312.62" y="402.5" width="83.65" height="1.7" opacity="0.68"/>
<rect x="311.48" y="404" width="84.81" height="1.7" opacity="0.7"/>
<rect x="310.44" y="405.5" width="85.25" height="1.7" opacity="0.7"/>
<rect x="309.51" y="407" width="85.55" height="1.7" opacity="0.71"/>
<rect x="308.62" y="408.5" width="85.85" height="1.7" opacity="0.71"/>
<rect x="307.88" y="410" width="86.15" height="1.7" opacity="0.71"/>
<rect x="307.14" y="411.5" width="86.45" height="1.7" opacity="0.71"/>
<rect x="306.52" y="413" width="86.75" height="1.7" opacity="0.72"/>
<rect x="305.92" y="414.5" width="87.05" height="1.7" opacity="0.72"/>
<rect x="305.41" y="416" width="87.35" height="1.7" opacity="0.72"/>
<rect x="304.93" y="417.5" width="87.65" height="1.7" opacity="0.73"/>
<rect x="304.54" y="419" width="87.95" height="1.7" opacity="0.73"/>
<rect x="304.17" y="420.5" width="88.25" height="1.7" opacity="0.73"/>
<rect x="303.88" y="422" width="88.55" height="1.7" opacity="0.74"/>
<rect x="303.58" y="423.5" width="88.85" height="1.7" opacity="0.74"/>
<rect x="303.35" y="425" width="89.15" height="1.7" opacity="0.74"/>
<rect x="303.12" y="426.5" width="89.45" height="1.7" opacity="0.74"/>
<rect x="302.91" y="428" width="89.75" height="1.7" opacity="0.75"/>
<rect x="302.73" y="429.5" width="89.96" height="1.7" opacity="0.75"/>
<rect x="302.55" y="431" width="89.71" height="1.7" opacity="0.75"/>
<rect x="302.39" y="432.5" width="89.46" height="1.7" opacity="0.74"/>
<rect x="302.25" y="434" width="89.21" height="1.7" opacity="0.74"/>
<rect x="302.12" y="435.5" width="88.96" height="1.7" opacity="0.74"/>
<rect x="301.99" y="437" width="88.71" height="1.7" opacity="0.74"/>
<rect x="301.89" y="438.5" width="88.46" height="1.7" opacity="0.73"/>
<rect x="301.79" y="440" width="88.21" height="1.7" opacity="0.73"/>
<rect x="301.7" y="441.5" width="87.96" height="1.7" opacity="0.73"/>
<rect x="301.63" y="443" width="87.71" height="1.7" opacity="0.73"/>
<rect x="301.57" y="444.5" width="87.46" height="1.7" opacity="0.72"/>
<rect x="301.51" y="446" width="87.21" height="1.7" opacity="0.72"/>
<rect x="301.49" y="447.5" width="86.96" height="1.7" opacity="0.72"/>
<rect x="301.47" y="449" width="86.71" height="1.7" opacity="0.72"/>
<rect x="301.45" y="450.5" width="86.46" height="1.7" opacity="0.71"/>
<rect x="301.47" y="452" width="86.21" height="1.7" opacity="0.71"/>
<rect x="301.5" y="453.5" width="85.96" height="1.7" opacity="0.71"/>
<rect x="301.53" y="455" width="85.71" height="1.7" opacity="0.71"/>
<rect x="301.59" y="456.5" width="85.46" height="1.7" opacity="0.7"/>
<rect x="301.65" y="458" width="85.21" height="1.7" opacity="0.7"/>
<rect x="301.72" y="459.5" width="84.8" height="1.7" opacity="0.7"/>
<rect x="301.8" y="461" width="83.6" height="1.7" opacity="0.68"/>
<rect x="301.89" y="462.5" width="82.4" height="1.7" opacity="0.67"/>
<rect x="301.98" y="464" width="81.2" height="1.7" opacity="0.65"/>
<rect x="302.1" y="465.5" width="80" height="1.7" opacity="0.64"/>
<rect x="302.22" y="467" width="78.8" height="1.7" opacity="0.62"/>
<rect x="302.35" y="468.5" width="77.6" height="1.7" opacity="0.61"/>
<rect x="302.49" y="470" width="76.4" height="1.7" opacity="0.59"/>
<rect x="302.64" y="471.5" width="75.2" height="1.7" opacity="0.58"/>
<rect x="302.79" y="473" width="74" height="1.7" opacity="0.56"/>
<rect x="302.95" y="474.5" width="72.8" height="1.7" opacity="0.55"/>
<rect x="303.11" y="476" width="71.6" height="1.7" opacity="0.53"/>
<rect x="303.28" y="477.5" width="70.4" height="1.7" opacity="0.52"/>
<rect x="303.44" y="479" width="69.2" height="1.7" opacity="0.5"/>
<rect x="303.6" y="480.5" width="68" height="1.7" opacity="0.49"/>
<rect x="303.76" y="482" width="66.8" height="1.7" opacity="0.47"/>
<rect x="303.92" y="483.5" width="65.6" height="1.7" opacity="0.46"/>
<rect x="304.07" y="485" width="64.25" height="1.7" opacity="0.44"/>
<rect x="304.23" y="486.5" width="62.75" height="1.7" opacity="0.42"/>
<rect x="304.38" y="488" width="61.25" height="1.7" opacity="0.39"/>
<rect x="304.52" y="489.5" width="59.75" height="1.7" opacity="0.37"/>
<rect x="304.68" y="491" width="58.25" height="1.7" opacity="0.35"/>
<rect x="304.82" y="492.5" width="56.75" height="1.7" opacity="0.33"/>
<rect x="304.98" y="494" width="55.25" height="1.7" opacity="0.3"/>
<rect x="305.12" y="495.5" width="53.75" height="1.7" opacity="0.28"/>
<rect x="305.27" y="497" width="52.25" height="1.7" opacity="0.26"/>
<rect x="305.43" y="498.5" width="50.75" height="1.7" opacity="0.24"/>
<rect x="305.57" y="500" width="49.25" height="1.7" opacity="0.21"/>
<rect x="305.73" y="501.5" width="47.75" height="1.7" opacity="0.19"/>
<rect x="305.88" y="503" width="46.25" height="1.7" opacity="0.17"/>
<rect x="306" y="504.5" width="45" height="1.7" opacity="0.15"/>
<rect x="306" y="506" width="45" height="1.7" opacity="0.15"/>
<rect x="306" y="507.5" width="45" height="1.7" opacity="0.15"/>
</g>
<path d="M301.5 452 L301.73 447.43 L302.06 440.81 L302.48 433.79 L303 428 L303.57 423.93 L304.22 420.69 L305 417.85 L306 415 L307.22 412.06 L308.62 409.25 L310.22 406.56 L312 404 L314.04 401.54 L316.31 399.19 L318.68 396.99 L321 395 L323.23 393.27 L325.44 391.75 L327.68 390.36 L330 389 L332.66 387.56 L335.56 386.12 L338.18 384.88 L340 384" fill="none" stroke="#c8447e" stroke-width="2.6" stroke-linejoin="round" stroke-linecap="round" opacity="0.75" filter="url(#bl2)" />
<path d="M322 274.2 L321.4 274.22 L320.73 274.24 L319.71 274.28 L318.08 274.36 L315.6 274.5 L311.99 274.72 L307.42 274.99 L302.29 275.31 L297.02 275.65 L292 276 L287.23 276.36 L282.43 276.75 L277.62 277.15 L272.81 277.57 L268 278 L263.2 278.43 L258.39 278.86 L253.58 279.32 L248.78 279.79 L244 280.3 L239.19 280.84 L234.34 281.4 L229.52 281.99 L224.82 282.62 L220.3 283.3 L215.94 284.04 L211.7 284.84 L207.6 285.67 L203.69 286.5 L200 287.3 L196.51 288.08 L193.21 288.85 L190.11 289.62 L187.23 290.37 L184.6 291.1 L182.23 291.82 L180.11 292.53 L178.21 293.22 L176.51 293.88 L175 294.5 L173.74 295.05 L172.75 295.54 L171.92 296 L171.14 296.51 L170.3 297.1 L169.39 297.8 L168.47 298.56 L167.59 299.37 L166.75 300.19 L166 301 L165.32 301.81 L164.68 302.64 L164.12 303.47 L163.65 304.26 L163.3 305 L163.07 305.64 L162.96 306.2 L162.94 306.74 L163 307.32 L163.1 308 L163.24 308.8" fill="none" stroke="url(#dua)" stroke-width="3.2" stroke-linejoin="round" stroke-linecap="round" opacity="0.9" filter="url(#bl3)" />
<path d="M163.1 308 L163.24 308.8 L163.44 309.69 L163.71 310.63 L164.06 311.58 L164.5 312.5 L165.05 313.41 L165.69 314.33 L166.41 315.24 L167.19 316.14 L168 317 L168.75 317.69 L169.45 318.22 L170.24 318.79 L171.28 319.62 L172.7 320.9 L174.62 322.8 L176.94 325.19 L179.49 327.82 L182.1 330.44 L184.6 332.8 L186.89 334.79 L189.08 336.57 L191.32 338.31 L193.74 340.2 L196.5 342.4 L199.74 345.06 L203.36 348.05 L207.15 351.18 L210.87 354.23 L214.3 357 L217.38 359.42 L220.27 361.64 L223.05 363.74 L225.8 365.83 L228.6 368 L231.54 370.29 L234.57 372.64 L237.55 374.99 L240.37 377.26 L242.9 379.4 L244.94 381.3 L246.58 382.99 L248.11 384.65 L249.82 386.44 L252 388.5 L254.63 390.75 L257.53 393.09 L260.71 395.65 L264.19 398.57 L268 402 L272.51 406.29 L277.7 411.35 L283.02 416.64 L287.91 421.64 L291.8 425.8 L294.57 429.02 L296.58 431.65 L298.04 433.86 L299.14 435.82 L300.1 437.7 L300.85 439.43 L301.26 440.88 L301.42 442.18 L301.4 443.45 L301.3 444.8 L301.07 446.22 L300.67 447.63 L300.14 449.06 L299.53 450.51 L298.9 452 L298.28 453.42 L297.64 454.77 L296.93 456.2 L296.07 457.89 L295 460 L293.62 462.76 L291.98 466.07 L290.22 469.57 L288.51 472.93 L287 475.8 L285.73 477.96 L284.61 479.63 L283.56 481.15 L282.51 482.86 L281.4 485.1 L280.19 487.98 L278.92 491.28 L277.66 494.82 L276.43 498.42 L275.3 501.9 L274.34 505.08 L273.53 508.08 L272.74 511.17 L271.84 514.62 L270.7 518.7 L269.37 523.31 L267.94 528.28 L266.33 533.74 L264.48 539.87 L262.3 546.8 L259.7 554.88 L256.71 563.99 L253.51 573.65 L250.26 583.36 L247.1 592.6 L243.92 601.73 L240.62 611.07 L237.37 620.13 L234.37 628.37 L231.8 635.3 L230.13 639.24 L229.24 640.53 L228.43 641.68 L226.98 645.2 L224.2 653.6 L219.28 669.73 L212.67 691.92 L205.61 715.88" fill="none" stroke="#e0507c" stroke-width="2.4" stroke-linejoin="round" stroke-linecap="round" opacity="0.9" filter="url(#bl4)" />
<line x1="127.3" y1="489" x2="572" y2="489" stroke="#f50000" stroke-width="5.3" stroke-dasharray="15.5 4.6"/>
</g>
<rect x="189" y="655" width="345" height="82.7" fill="#fff" />
<rect x="220.8" y="664.2" width="288.5" height="14.4" fill="url(#cbm)" stroke="#000" stroke-width="1.2" />
<line x1="220.8" y1="678.6" x2="220.8" y2="683.9" stroke="#000" stroke-width="1.3" />
<text x="220.8" y="705.8" font-size="19.8" text-anchor="middle" font-family="'DejaVu Sans', sans-serif">-12.0</text>
<line x1="278.5" y1="678.6" x2="278.5" y2="683.9" stroke="#000" stroke-width="1.3" />
<text x="278.5" y="705.8" font-size="19.8" text-anchor="middle" font-family="'DejaVu Sans', sans-serif">-10.0</text>
<line x1="336.2" y1="678.6" x2="336.2" y2="683.9" stroke="#000" stroke-width="1.3" />
<text x="336.2" y="705.8" font-size="19.8" text-anchor="middle" font-family="'DejaVu Sans', sans-serif">-8.0</text>
<line x1="393.9" y1="678.6" x2="393.9" y2="683.9" stroke="#000" stroke-width="1.3" />
<text x="393.9" y="705.8" font-size="19.8" text-anchor="middle" font-family="'DejaVu Sans', sans-serif">-6.0</text>
<line x1="451.6" y1="678.6" x2="451.6" y2="683.9" stroke="#000" stroke-width="1.3" />
<text x="451.6" y="705.8" font-size="19.8" text-anchor="middle" font-family="'DejaVu Sans', sans-serif">-4.0</text>
<line x1="509.3" y1="678.6" x2="509.3" y2="683.9" stroke="#000" stroke-width="1.3" />
<text x="509.3" y="705.8" font-size="19.8" text-anchor="middle" font-family="'DejaVu Sans', sans-serif">-2.0</text>
<text x="376.4" y="729.8" font-size="21.5" text-anchor="middle">log slip velocity (m/s)</text>
<rect x="127.3" y="229.5" width="444.7" height="521.4" fill="none" stroke="#000" stroke-width="4.3" />
<line x1="119.3" y1="229.5" x2="127.3" y2="229.5" stroke="#000" stroke-width="1.6" />
<text x="110.5" y="237.1" font-size="21.8" text-anchor="end">0</text>
<line x1="119.3" y1="308.88" x2="127.3" y2="308.88" stroke="#000" stroke-width="1.6" />
<text x="110.5" y="316.48" font-size="21.8" text-anchor="end">50</text>
<line x1="119.3" y1="388.26" x2="127.3" y2="388.26" stroke="#000" stroke-width="1.6" />
<text x="110.5" y="395.86" font-size="21.8" text-anchor="end">100</text>
<line x1="119.3" y1="467.64" x2="127.3" y2="467.64" stroke="#000" stroke-width="1.6" />
<text x="110.5" y="475.24" font-size="21.8" text-anchor="end">150</text>
<line x1="119.3" y1="547.02" x2="127.3" y2="547.02" stroke="#000" stroke-width="1.6" />
<text x="110.5" y="554.62" font-size="21.8" text-anchor="end">200</text>
<line x1="119.3" y1="626.4" x2="127.3" y2="626.4" stroke="#000" stroke-width="1.6" />
<text x="110.5" y="634" font-size="21.8" text-anchor="end">250</text>
<line x1="119.3" y1="705.78" x2="127.3" y2="705.78" stroke="#000" stroke-width="1.6" />
<text x="110.5" y="713.38" font-size="21.8" text-anchor="end">300</text>
<line x1="198.7" y1="750.9" x2="198.7" y2="758.4" stroke="#000" stroke-width="1.6" />
<text x="198.7" y="783" font-size="21.8" text-anchor="middle">25</text>
<line x1="282.6" y1="750.9" x2="282.6" y2="758.4" stroke="#000" stroke-width="1.6" />
<text x="282.6" y="783" font-size="21.8" text-anchor="middle">50</text>
<line x1="366.5" y1="750.9" x2="366.5" y2="758.4" stroke="#000" stroke-width="1.6" />
<text x="366.5" y="783" font-size="21.8" text-anchor="middle">75</text>
<line x1="450.4" y1="750.9" x2="450.4" y2="758.4" stroke="#000" stroke-width="1.6" />
<text x="450.4" y="783" font-size="21.8" text-anchor="middle">100</text>
<line x1="534.3" y1="750.9" x2="534.3" y2="758.4" stroke="#000" stroke-width="1.6" />
<text x="534.3" y="783" font-size="21.8" text-anchor="middle">125</text>
<text x="367.6" y="815" font-size="28" text-anchor="middle">Time [days]</text>
<text x="62.5" y="482.5" font-size="28" text-anchor="middle" transform="rotate(-90 62.5 482.5)">along strike [km]</text>
<text x="0" y="261.5" font-size="36" font-weight="bold">(d)</text>
<g clip-path="url(#clipe)">
<rect x="781.3" y="228.1" width="449.7" height="520.9" fill="#1c1043" />
<g clip-path="url(#ecr)"><g filter="url(#bl5)">
<rect x="890" y="354" width="84" height="93" fill="url(#gC)" opacity="0.72"/>
<rect x="890" y="533" width="86" height="92" fill="url(#gC)" opacity="0.72"/>
</g></g>
<g fill="url(#wB)" filter="url(#bl6)">
<rect x="781" y="345" width="12.02" height="1.7" opacity="0.45"/>
<rect x="781" y="346.5" width="12.05" height="1.7" opacity="0.45"/>
<rect x="783.86" y="348" width="12.09" height="1.7" opacity="0.45"/>
<rect x="787.99" y="349.5" width="12.12" height="1.7" opacity="0.46"/>
<rect x="792.2" y="351" width="12.16" height="1.7" opacity="0.46"/>
<rect x="796.5" y="352.5" width="12.19" height="1.7" opacity="0.46"/>
<rect x="800.92" y="354" width="12.23" height="1.7" opacity="0.46"/>
<rect x="805.61" y="355.5" width="12.26" height="1.7" opacity="0.46"/>
<rect x="810.72" y="357" width="12.3" height="1.7" opacity="0.47"/>
<rect x="816.02" y="358.5" width="12.34" height="1.7" opacity="0.47"/>
<rect x="821.1" y="360" width="12.37" height="1.7" opacity="0.47"/>
<rect x="825.75" y="361.5" width="12.41" height="1.7" opacity="0.47"/>
<rect x="830" y="363" width="12.44" height="1.7" opacity="0.47"/>
<rect x="834.01" y="364.5" width="12.48" height="1.7" opacity="0.47"/>
<rect x="837.84" y="366" width="12.51" height="1.7" opacity="0.48"/>
<rect x="841.6" y="367.5" width="12.55" height="1.7" opacity="0.48"/>
<rect x="845.3" y="369" width="12.58" height="1.7" opacity="0.48"/>
<rect x="848.94" y="370.5" width="12.62" height="1.7" opacity="0.48"/>
<rect x="852.57" y="372" width="12.65" height="1.7" opacity="0.48"/>
<rect x="856.18" y="373.5" width="12.69" height="1.7" opacity="0.48"/>
<rect x="859.79" y="375" width="12.72" height="1.7" opacity="0.49"/>
<rect x="863.37" y="376.5" width="12.76" height="1.7" opacity="0.49"/>
<rect x="866.86" y="378" width="12.79" height="1.7" opacity="0.49"/>
<rect x="870.22" y="379.5" width="12.83" height="1.7" opacity="0.49"/>
<rect x="873.43" y="381" width="12.86" height="1.7" opacity="0.49"/>
<rect x="876.52" y="382.5" width="12.9" height="1.7" opacity="0.5"/>
<rect x="879.53" y="384" width="12.94" height="1.7" opacity="0.5"/>
<rect x="882.47" y="385.5" width="12.97" height="1.7" opacity="0.5"/>
<rect x="885.3" y="387" width="13.01" height="1.7" opacity="0.5"/>
<rect x="888.04" y="388.5" width="13.04" height="1.7" opacity="0.5"/>
<rect x="890.67" y="390" width="13.08" height="1.7" opacity="0.5"/>
<rect x="893.15" y="391.5" width="13.11" height="1.7" opacity="0.51"/>
<rect x="895.42" y="393" width="13.15" height="1.7" opacity="0.51"/>
<rect x="897.54" y="394.5" width="13.18" height="1.7" opacity="0.51"/>
<rect x="899.53" y="396" width="13.22" height="1.7" opacity="0.51"/>
<rect x="901.42" y="397.5" width="13.25" height="1.7" opacity="0.51"/>
<rect x="903.25" y="399" width="13.29" height="1.7" opacity="0.51"/>
<rect x="905.09" y="400.5" width="13.32" height="1.7" opacity="0.52"/>
<rect x="906.94" y="402" width="13.36" height="1.7" opacity="0.52"/>
<rect x="908.85" y="403.5" width="13.39" height="1.7" opacity="0.52"/>
<rect x="910.77" y="405" width="13.43" height="1.7" opacity="0.52"/>
<rect x="912.67" y="406.5" width="13.46" height="1.7" opacity="0.52"/>
<rect x="914.53" y="408" width="13.5" height="1.7" opacity="0.53"/>
<rect x="916.28" y="409.5" width="13.54" height="1.7" opacity="0.53"/>
<rect x="917.95" y="411" width="13.57" height="1.7" opacity="0.53"/>
<rect x="919.54" y="412.5" width="13.61" height="1.7" opacity="0.53"/>
<rect x="920.96" y="414" width="13.64" height="1.7" opacity="0.53"/>
<rect x="922.35" y="415.5" width="13.68" height="1.7" opacity="0.53"/>
<rect x="923.62" y="417" width="13.71" height="1.7" opacity="0.54"/>
<rect x="924.88" y="418.5" width="13.75" height="1.7" opacity="0.54"/>
<rect x="926.07" y="420" width="13.78" height="1.7" opacity="0.54"/>
<rect x="927.26" y="421.5" width="13.82" height="1.7" opacity="0.54"/>
<rect x="928.43" y="423" width="13.85" height="1.7" opacity="0.54"/>
<rect x="929.6" y="424.5" width="13.89" height="1.7" opacity="0.54"/>
<rect x="930.77" y="426" width="13.92" height="1.7" opacity="0.55"/>
<rect x="931.94" y="427.5" width="13.96" height="1.7" opacity="0.55"/>
<rect x="933.11" y="429" width="13.99" height="1.7" opacity="0.55"/>
<rect x="934.25" y="430.5" width="14.47" height="1.7" opacity="0.55"/>
<rect x="935.38" y="432" width="15.03" height="1.7" opacity="0.56"/>
<rect x="936.49" y="433.5" width="15.59" height="1.7" opacity="0.56"/>
<rect x="937.59" y="435" width="16.16" height="1.7" opacity="0.57"/>
<rect x="938.7" y="436.5" width="16.72" height="1.7" opacity="0.57"/>
<rect x="939.79" y="438" width="17.28" height="1.7" opacity="0.58"/>
<rect x="940.86" y="439.5" width="17.84" height="1.7" opacity="0.58"/>
<rect x="941.91" y="441" width="18.41" height="1.7" opacity="0.59"/>
<rect x="942.91" y="442.5" width="18.97" height="1.7" opacity="0.59"/>
<rect x="943.3" y="444" width="19.53" height="1.7" opacity="0.6"/>
<rect x="944.25" y="445.5" width="20" height="1.7" opacity="0.6"/>
</g>
<g fill="url(#wB)" filter="url(#bl6)">
<rect x="943.33" y="533" width="19.7" height="1.7" opacity="0.6"/>
<rect x="942.96" y="534.5" width="19.1" height="1.7" opacity="0.59"/>
<rect x="941.98" y="536" width="18.5" height="1.7" opacity="0.59"/>
<rect x="940.93" y="537.5" width="17.9" height="1.7" opacity="0.58"/>
<rect x="939.87" y="539" width="17.3" height="1.7" opacity="0.58"/>
<rect x="938.77" y="540.5" width="16.7" height="1.7" opacity="0.57"/>
<rect x="937.67" y="542" width="16.1" height="1.7" opacity="0.57"/>
<rect x="936.56" y="543.5" width="15.5" height="1.7" opacity="0.56"/>
<rect x="935.45" y="545" width="14.9" height="1.7" opacity="0.56"/>
<rect x="934.33" y="546.5" width="14.3" height="1.7" opacity="0.55"/>
<rect x="933.19" y="548" width="13.98" height="1.7" opacity="0.55"/>
<rect x="932.02" y="549.5" width="13.95" height="1.7" opacity="0.55"/>
<rect x="930.85" y="551" width="13.91" height="1.7" opacity="0.55"/>
<rect x="929.68" y="552.5" width="13.88" height="1.7" opacity="0.54"/>
<rect x="928.51" y="554" width="13.84" height="1.7" opacity="0.54"/>
<rect x="927.34" y="555.5" width="13.81" height="1.7" opacity="0.54"/>
<rect x="926.15" y="557" width="13.78" height="1.7" opacity="0.54"/>
<rect x="924.96" y="558.5" width="13.74" height="1.7" opacity="0.54"/>
<rect x="923.7" y="560" width="13.71" height="1.7" opacity="0.54"/>
<rect x="922.44" y="561.5" width="13.67" height="1.7" opacity="0.53"/>
<rect x="921.06" y="563" width="13.64" height="1.7" opacity="0.53"/>
<rect x="919.64" y="564.5" width="13.6" height="1.7" opacity="0.53"/>
<rect x="918.06" y="566" width="13.57" height="1.7" opacity="0.53"/>
<rect x="916.4" y="567.5" width="13.53" height="1.7" opacity="0.53"/>
<rect x="914.65" y="569" width="13.5" height="1.7" opacity="0.53"/>
<rect x="912.79" y="570.5" width="13.47" height="1.7" opacity="0.52"/>
<rect x="910.9" y="572" width="13.43" height="1.7" opacity="0.52"/>
<rect x="908.98" y="573.5" width="13.4" height="1.7" opacity="0.52"/>
<rect x="907.07" y="575" width="13.36" height="1.7" opacity="0.52"/>
<rect x="905.21" y="576.5" width="13.33" height="1.7" opacity="0.52"/>
<rect x="903.37" y="578" width="13.29" height="1.7" opacity="0.51"/>
<rect x="901.54" y="579.5" width="13.26" height="1.7" opacity="0.51"/>
<rect x="899.65" y="581" width="13.22" height="1.7" opacity="0.51"/>
<rect x="897.67" y="582.5" width="13.19" height="1.7" opacity="0.51"/>
<rect x="895.57" y="584" width="13.16" height="1.7" opacity="0.51"/>
<rect x="893.32" y="585.5" width="13.12" height="1.7" opacity="0.51"/>
<rect x="890.83" y="587" width="13.09" height="1.7" opacity="0.5"/>
<rect x="888.22" y="588.5" width="13.05" height="1.7" opacity="0.5"/>
<rect x="885.49" y="590" width="13.02" height="1.7" opacity="0.5"/>
<rect x="882.67" y="591.5" width="12.98" height="1.7" opacity="0.5"/>
<rect x="879.73" y="593" width="12.95" height="1.7" opacity="0.5"/>
<rect x="876.72" y="594.5" width="12.91" height="1.7" opacity="0.5"/>
<rect x="873.64" y="596" width="12.88" height="1.7" opacity="0.49"/>
<rect x="870.44" y="597.5" width="12.84" height="1.7" opacity="0.49"/>
<rect x="867.09" y="599" width="12.81" height="1.7" opacity="0.49"/>
<rect x="863.61" y="600.5" width="12.78" height="1.7" opacity="0.49"/>
<rect x="860.03" y="602" width="12.74" height="1.7" opacity="0.49"/>
<rect x="856.42" y="603.5" width="12.71" height="1.7" opacity="0.49"/>
<rect x="852.81" y="605" width="12.67" height="1.7" opacity="0.48"/>
<rect x="849.18" y="606.5" width="12.64" height="1.7" opacity="0.48"/>
<rect x="845.54" y="608" width="12.6" height="1.7" opacity="0.48"/>
<rect x="841.84" y="609.5" width="12.57" height="1.7" opacity="0.48"/>
<rect x="838.1" y="611" width="12.53" height="1.7" opacity="0.48"/>
<rect x="834.27" y="612.5" width="12.5" height="1.7" opacity="0.48"/>
<rect x="830.27" y="614" width="12.47" height="1.7" opacity="0.47"/>
<rect x="826.05" y="615.5" width="12.43" height="1.7" opacity="0.47"/>
<rect x="821.44" y="617" width="12.4" height="1.7" opacity="0.47"/>
<rect x="816.37" y="618.5" width="12.36" height="1.7" opacity="0.47"/>
<rect x="811.07" y="620" width="12.33" height="1.7" opacity="0.47"/>
<rect x="805.94" y="621.5" width="12.29" height="1.7" opacity="0.46"/>
<rect x="801.23" y="623" width="12.26" height="1.7" opacity="0.46"/>
<rect x="796.79" y="624.5" width="12.22" height="1.7" opacity="0.46"/>
<rect x="792.49" y="626" width="12.19" height="1.7" opacity="0.46"/>
<rect x="788.27" y="627.5" width="12.16" height="1.7" opacity="0.46"/>
<rect x="784.13" y="629" width="12.12" height="1.7" opacity="0.46"/>
<rect x="781" y="630.5" width="12.09" height="1.7" opacity="0.45"/>
<rect x="781" y="632" width="12.05" height="1.7" opacity="0.45"/>
<rect x="781" y="633.5" width="12.02" height="1.7" opacity="0.45"/>
<rect x="781" y="635" width="12" height="1.7" opacity="0.45"/>
</g>
<g fill="url(#wF)" filter="url(#bl7)">
<rect x="945.17" y="446" width="108.99" height="1.7" opacity="0.47"/>
<rect x="948.78" y="447.5" width="113.72" height="1.7" opacity="0.51"/>
<rect x="953.54" y="449" width="117.3" height="1.7" opacity="0.54"/>
<rect x="958.8" y="450.5" width="120.37" height="1.7" opacity="0.58"/>
<rect x="964.29" y="452" width="123.21" height="1.7" opacity="0.61"/>
<rect x="970.02" y="453.5" width="125.82" height="1.7" opacity="0.63"/>
<rect x="976.16" y="455" width="125.09" height="1.7" opacity="0.66"/>
<rect x="982.5" y="456.5" width="121.25" height="1.7" opacity="0.68"/>
<rect x="988.62" y="458" width="117.63" height="1.7" opacity="0.7"/>
<rect x="994.3" y="459.5" width="114.45" height="1.7" opacity="0.72"/>
<rect x="999.66" y="461" width="111.59" height="1.7" opacity="0.75"/>
<rect x="1004.87" y="462.5" width="108.88" height="1.7" opacity="0.75"/>
<rect x="1009.89" y="464" width="106.36" height="1.7" opacity="0.76"/>
<rect x="1014.66" y="465.5" width="104.09" height="1.7" opacity="0.77"/>
<rect x="1019.09" y="467" width="102.16" height="1.7" opacity="0.77"/>
<rect x="1023.1" y="468.5" width="100.65" height="1.7" opacity="0.78"/>
<rect x="1026.67" y="470" width="98.72" height="1.7" opacity="0.78"/>
<rect x="1029.64" y="471.5" width="96.54" height="1.7" opacity="0.79"/>
<rect x="1032.11" y="473" width="94.87" height="1.7" opacity="0.79"/>
<rect x="1034.16" y="474.5" width="93.6" height="1.7" opacity="0.8"/>
<rect x="1035.83" y="476" width="92.73" height="1.7" opacity="0.8"/>
<rect x="1037.17" y="477.5" width="92.17" height="1.7" opacity="0.81"/>
<rect x="1038.3" y="479" width="91.83" height="1.7" opacity="0.82"/>
<rect x="1039.27" y="480.5" width="91.65" height="1.7" opacity="0.82"/>
<rect x="1040.12" y="482" width="91.59" height="1.7" opacity="0.83"/>
<rect x="1040.8" y="483.5" width="91.7" height="1.7" opacity="0.83"/>
<rect x="1041.22" y="485" width="92.07" height="1.7" opacity="0.84"/>
<rect x="1041.43" y="486.5" width="92.65" height="1.7" opacity="0.84"/>
<rect x="1041.49" y="488" width="93.38" height="1.7" opacity="0.85"/>
<rect x="1041.49" y="489.5" width="92.85" height="1.7" opacity="0.85"/>
<rect x="1041.4" y="491" width="92.15" height="1.7" opacity="0.84"/>
<rect x="1041.14" y="492.5" width="91.62" height="1.7" opacity="0.83"/>
<rect x="1040.64" y="494" width="91.34" height="1.7" opacity="0.83"/>
<rect x="1039.9" y="495.5" width="91.28" height="1.7" opacity="0.82"/>
<rect x="1039.02" y="497" width="91.38" height="1.7" opacity="0.82"/>
<rect x="1038.02" y="498.5" width="91.59" height="1.7" opacity="0.81"/>
<rect x="1036.86" y="500" width="91.95" height="1.7" opacity="0.81"/>
<rect x="1035.45" y="501.5" width="92.58" height="1.7" opacity="0.8"/>
<rect x="1033.68" y="503" width="93.56" height="1.7" opacity="0.8"/>
<rect x="1031.52" y="504.5" width="94.93" height="1.7" opacity="0.79"/>
<rect x="1028.9" y="506" width="96.76" height="1.7" opacity="0.78"/>
<rect x="1025.74" y="507.5" width="98.84" height="1.7" opacity="0.78"/>
<rect x="1022.06" y="509" width="100.02" height="1.7" opacity="0.77"/>
<rect x="1017.93" y="510.5" width="101.66" height="1.7" opacity="0.77"/>
<rect x="1013.39" y="512" width="103.69" height="1.7" opacity="0.76"/>
<rect x="1008.55" y="513.5" width="106.03" height="1.7" opacity="0.76"/>
<rect x="1003.49" y="515" width="108.6" height="1.7" opacity="0.75"/>
<rect x="998.24" y="516.5" width="111.34" height="1.7" opacity="0.73"/>
<rect x="992.83" y="518" width="114.26" height="1.7" opacity="0.71"/>
<rect x="987.03" y="519.5" width="117.56" height="1.7" opacity="0.69"/>
<rect x="980.81" y="521" width="121.27" height="1.7" opacity="0.66"/>
<rect x="974.49" y="522.5" width="124.26" height="1.7" opacity="0.64"/>
<rect x="968.46" y="524" width="122.79" height="1.7" opacity="0.62"/>
<rect x="962.81" y="525.5" width="120.94" height="1.7" opacity="0.59"/>
<rect x="957.35" y="527" width="118.9" height="1.7" opacity="0.56"/>
<rect x="952.21" y="528.5" width="116.54" height="1.7" opacity="0.53"/>
<rect x="947.72" y="530" width="113.53" height="1.7" opacity="0.5"/>
<rect x="944.44" y="531.5" width="109.31" height="1.7" opacity="0.47"/>
</g>
<path d="M781 347.5 L781.27 347.64 L781.52 347.78 L782 348.02 L783.01 348.43 L784.8 349.1 L787.55 350.09 L791.07 351.35 L795.12 352.78 L799.44 354.26 L803.8 355.7 L808.19 357.03 L812.78 358.34 L817.57 359.69 L822.54 361.18 L827.7 362.9 L833.28 364.96 L839.28 367.31 L845.35 369.77 L851.14 372.16 L856.3 374.3 L860.68 376.12 L864.51 377.73 L868.02 379.25 L871.44 380.8 L875 382.5 L878.78 384.37 L882.64 386.33 L886.44 388.35 L890.06 390.39 L893.4 392.4 L896.36 394.38 L899.01 396.34 L901.5 398.32 L903.95 400.33 L906.5 402.4 L909.18 404.51 L911.9 406.63 L914.61 408.81 L917.26 411.09 L919.8 413.5 L922.26 416.14 L924.66 418.98 L926.98 421.89 L929.17 424.71 L931.2 427.3 L933.07 429.7 L934.81 431.99 L936.41 434.14 L937.84 436.09 L939.1 437.8 L940.12 439.2 L940.91 440.31 L941.56 441.25 L942.16 442.11 L942.8 443 L943.19 443.87 L943.28 444.66 L943.48 445.42 L944.25 446.25" fill="none" stroke="url(#eln)" stroke-width="4.8" stroke-linejoin="round" stroke-linecap="round" opacity="0.9" filter="url(#bl8)" />
<path d="M944.25 532.35 L943.48 533.18 L943.28 533.94 L943.19 534.73 L942.8 535.6 L942.16 536.49 L941.56 537.35 L940.91 538.29 L940.12 539.4 L939.1 540.8 L937.84 542.51 L936.41 544.46 L934.81 546.61 L933.07 548.9 L931.2 551.3 L929.17 553.89 L926.98 556.71 L924.66 559.62 L922.26 562.46 L919.8 565.1 L917.26 567.51 L914.61 569.79 L911.9 571.97 L909.18 574.09 L906.5 576.2 L903.95 578.27 L901.5 580.28 L899.01 582.26 L896.36 584.22 L893.4 586.2 L890.06 588.21 L886.44 590.25 L882.64 592.27 L878.78 594.23 L875 596.1 L871.44 597.8 L868.02 599.35 L864.51 600.87 L860.68 602.48 L856.3 604.3 L851.14 606.44 L845.35 608.83 L839.28 611.29 L833.28 613.64 L827.7 615.7 L822.54 617.42 L817.57 618.91 L812.78 620.26 L808.19 621.57 L803.8 622.9 L799.44 624.34 L795.12 625.82 L791.07 627.25 L787.55 628.51 L784.8 629.5 L783.01 630.17 L782 630.58 L781.52 630.82 L781.27 630.96 L781 631.1" fill="none" stroke="url(#eln)" stroke-width="4.8" stroke-linejoin="round" stroke-linecap="round" opacity="0.9" filter="url(#bl8)" />
<path d="M943.28 444.66 L943.48 445.42 L944.25 446.25 L946 447.2 L948.92 448.31 L952.73 449.52 L957.15 450.8 L961.9 452.1 L966.7 453.4 L971.66 454.67 L976.95 455.94 L982.43 457.23 L987.96 458.58 L993.4 460 L998.95 461.55 L1004.72 463.2 L1010.38 464.9 L1015.61 466.55 L1020.1 468.1 L1023.74 469.49 L1026.74 470.78 L1029.27 472.03 L1031.47 473.31 L1033.5 474.7 L1035.34 476.23 L1036.88 477.87 L1038.16 479.53 L1039.22 481.17 L1040.1 482.7 L1040.76 484.11 L1041.17 485.44 L1041.39 486.73 L1041.48 488 L1041.5 489.3 L1041.48 490.6 L1041.39 491.87 L1041.17 493.16 L1040.76 494.49 L1040.1 495.9 L1039.22 497.43 L1038.16 499.07 L1036.88 500.73 L1035.34 502.37 L1033.5 503.9 L1031.47 505.29 L1029.27 506.57 L1026.74 507.82 L1023.74 509.11 L1020.1 510.5 L1015.61 512.05 L1010.38 513.7 L1004.72 515.4 L998.95 517.05 L993.4 518.6 L987.96 520.02 L982.43 521.37 L976.95 522.66 L971.66 523.93 L966.7 525.2 L961.9 526.5 L957.15 527.8 L952.73 529.08 L948.92 530.29 L946 531.4 L944.25 532.35 L943.48 533.18 L943.28 533.94" fill="none" stroke="#c4437f" stroke-width="3" stroke-linejoin="round" stroke-linecap="round" opacity="0.55" filter="url(#bl9)" />
<line x1="781.3" y1="449.4" x2="1231" y2="449.4" stroke="#f50000" stroke-width="5.3" stroke-dasharray="16.9 7.5"/>
<line x1="781.3" y1="529.2" x2="1231" y2="529.2" stroke="#f50000" stroke-width="5.3" stroke-dasharray="16.9 7.5"/>
</g>
<rect x="870.9" y="655" width="345.4" height="82.9" fill="#fff" />
<rect x="902.7" y="664.2" width="288.5" height="14.4" fill="url(#cbm)" stroke="#000" stroke-width="1.2" />
<line x1="902.7" y1="678.6" x2="902.7" y2="683.9" stroke="#000" stroke-width="1.3" />
<text x="902.7" y="705.8" font-size="19.8" text-anchor="middle" font-family="'DejaVu Sans', sans-serif">-12.0</text>
<line x1="960.4" y1="678.6" x2="960.4" y2="683.9" stroke="#000" stroke-width="1.3" />
<text x="960.4" y="705.8" font-size="19.8" text-anchor="middle" font-family="'DejaVu Sans', sans-serif">-10.0</text>
<line x1="1018.1" y1="678.6" x2="1018.1" y2="683.9" stroke="#000" stroke-width="1.3" />
<text x="1018.1" y="705.8" font-size="19.8" text-anchor="middle" font-family="'DejaVu Sans', sans-serif">-8.0</text>
<line x1="1075.8" y1="678.6" x2="1075.8" y2="683.9" stroke="#000" stroke-width="1.3" />
<text x="1075.8" y="705.8" font-size="19.8" text-anchor="middle" font-family="'DejaVu Sans', sans-serif">-6.0</text>
<line x1="1133.5" y1="678.6" x2="1133.5" y2="683.9" stroke="#000" stroke-width="1.3" />
<text x="1133.5" y="705.8" font-size="19.8" text-anchor="middle" font-family="'DejaVu Sans', sans-serif">-4.0</text>
<line x1="1191.2" y1="678.6" x2="1191.2" y2="683.9" stroke="#000" stroke-width="1.3" />
<text x="1191.2" y="705.8" font-size="19.8" text-anchor="middle" font-family="'DejaVu Sans', sans-serif">-2.0</text>
<text x="1052.5" y="729.8" font-size="21.5" text-anchor="middle">log slip velocity (m/s)</text>
<rect x="781.3" y="228.1" width="449.7" height="520.9" fill="none" stroke="#000" stroke-width="4.3" />
<line x1="773.3" y1="228.1" x2="781.3" y2="228.1" stroke="#000" stroke-width="1.6" />
<text x="764.3" y="235.7" font-size="21.8" text-anchor="end">0</text>
<line x1="773.3" y1="307.3" x2="781.3" y2="307.3" stroke="#000" stroke-width="1.6" />
<text x="764.3" y="314.9" font-size="21.8" text-anchor="end">50</text>
<line x1="773.3" y1="386.5" x2="781.3" y2="386.5" stroke="#000" stroke-width="1.6" />
<text x="764.3" y="394.1" font-size="21.8" text-anchor="end">100</text>
<line x1="773.3" y1="465.7" x2="781.3" y2="465.7" stroke="#000" stroke-width="1.6" />
<text x="764.3" y="473.3" font-size="21.8" text-anchor="end">150</text>
<line x1="773.3" y1="544.9" x2="781.3" y2="544.9" stroke="#000" stroke-width="1.6" />
<text x="764.3" y="552.5" font-size="21.8" text-anchor="end">200</text>
<line x1="773.3" y1="624.1" x2="781.3" y2="624.1" stroke="#000" stroke-width="1.6" />
<text x="764.3" y="631.7" font-size="21.8" text-anchor="end">250</text>
<line x1="773.3" y1="703.3" x2="781.3" y2="703.3" stroke="#000" stroke-width="1.6" />
<text x="764.3" y="710.9" font-size="21.8" text-anchor="end">300</text>
<line x1="907.1" y1="749" x2="907.1" y2="756.5" stroke="#000" stroke-width="1.6" />
<text x="907.1" y="781.4" font-size="21.8" text-anchor="middle">50</text>
<line x1="1034.6" y1="749" x2="1034.6" y2="756.5" stroke="#000" stroke-width="1.6" />
<text x="1034.6" y="781.4" font-size="21.8" text-anchor="middle">100</text>
<line x1="1162.1" y1="749" x2="1162.1" y2="756.5" stroke="#000" stroke-width="1.6" />
<text x="1162.1" y="781.4" font-size="21.8" text-anchor="middle">150</text>
<text x="1011.5" y="813.5" font-size="28" text-anchor="middle">Time [days]</text>
<text x="716.5" y="482.5" font-size="28" text-anchor="middle" transform="rotate(-90 716.5 482.5)">along strike [km]</text>
<text x="678" y="239.5" font-size="36" font-weight="bold">(e)</text>
<g clip-path="url(#clipf)">
<rect x="1457.2" y="230.6" width="451.7" height="521.4" fill="#1c1043" />
<g filter="url(#bl10)">
<path d="M1626 438 L1626.83 436.82 L1627.94 435.21 L1629.27 433.29 L1630.76 431.2 L1632.36 429.06 L1634 427 L1635.74 424.94 L1637.64 422.77 L1639.64 420.54 L1641.69 418.34 L1643.73 416.24 L1645.7 414.3 L1647.57 412.54 L1649.38 410.89 L1651.18 409.34 L1653.01 407.86 L1654.94 406.42 L1657 405 L1659 403.64 L1660.86 402.38 L1662.81 401.16 L1665.08 399.93 L1667.9 398.63 L1671.5 397.2 L1676.07 395.58 L1681.47 393.79 L1687.42 391.93 L1693.64 390.1 L1695 440 L1690 460 L1650 460 L1628 446 Z" fill="#6a2470" opacity="0.5"/>
<path d="M1618 546 L1619.06 547.09 L1620.52 548.59 L1622.25 550.38 L1624.15 552.3 L1626.1 554.22 L1628 556 L1629.88 557.67 L1631.85 559.33 L1633.88 561 L1635.93 562.67 L1637.98 564.33 L1640 566 L1641.98 567.68 L1643.95 569.39 L1645.91 571.09 L1647.9 572.77 L1649.92 574.41 L1652 576 L1653.92 577.47 L1655.63 578.83 L1657.37 580.15 L1659.41 581.5 L1662 582.96 L1665.4 584.6 L1669.66 586.5 L1674.59 588.63 L1680.07 590.87 L1685.98 593.09 L1692.2 595.17 L1695 545 L1690 522 L1650 524 L1625 538 Z" fill="#6a2470" opacity="0.5"/>
</g>
<g fill="url(#wB)" filter="url(#bl11)">
<rect x="1457" y="376" width="12.03" height="1.7" opacity="0.45"/>
<rect x="1457.79" y="377.5" width="12.09" height="1.7" opacity="0.45"/>
<rect x="1462.52" y="379" width="12.15" height="1.7" opacity="0.46"/>
<rect x="1467.26" y="380.5" width="12.21" height="1.7" opacity="0.46"/>
<rect x="1472.02" y="382" width="12.28" height="1.7" opacity="0.46"/>
<rect x="1476.83" y="383.5" width="12.34" height="1.7" opacity="0.47"/>
<rect x="1481.69" y="385" width="12.4" height="1.7" opacity="0.47"/>
<rect x="1486.59" y="386.5" width="12.46" height="1.7" opacity="0.47"/>
<rect x="1491.54" y="388" width="12.52" height="1.7" opacity="0.48"/>
<rect x="1496.56" y="389.5" width="12.58" height="1.7" opacity="0.48"/>
<rect x="1501.69" y="391" width="12.64" height="1.7" opacity="0.48"/>
<rect x="1507.05" y="392.5" width="12.7" height="1.7" opacity="0.49"/>
<rect x="1512.68" y="394" width="12.77" height="1.7" opacity="0.49"/>
<rect x="1518.29" y="395.5" width="12.83" height="1.7" opacity="0.49"/>
<rect x="1523.65" y="397" width="12.89" height="1.7" opacity="0.49"/>
<rect x="1528.66" y="398.5" width="12.95" height="1.7" opacity="0.5"/>
<rect x="1533.42" y="400" width="13.01" height="1.7" opacity="0.5"/>
<rect x="1538.02" y="401.5" width="13.07" height="1.7" opacity="0.5"/>
<rect x="1542.52" y="403" width="13.13" height="1.7" opacity="0.51"/>
<rect x="1546.98" y="404.5" width="13.19" height="1.7" opacity="0.51"/>
<rect x="1551.43" y="406" width="13.26" height="1.7" opacity="0.51"/>
<rect x="1555.89" y="407.5" width="13.32" height="1.7" opacity="0.52"/>
<rect x="1560.3" y="409" width="13.38" height="1.7" opacity="0.52"/>
<rect x="1564.64" y="410.5" width="13.44" height="1.7" opacity="0.52"/>
<rect x="1568.87" y="412" width="13.5" height="1.7" opacity="0.53"/>
<rect x="1572.96" y="413.5" width="13.56" height="1.7" opacity="0.53"/>
<rect x="1576.9" y="415" width="13.62" height="1.7" opacity="0.53"/>
<rect x="1580.74" y="416.5" width="13.68" height="1.7" opacity="0.53"/>
<rect x="1584.51" y="418" width="13.74" height="1.7" opacity="0.54"/>
<rect x="1588.21" y="419.5" width="13.81" height="1.7" opacity="0.54"/>
<rect x="1591.84" y="421" width="13.87" height="1.7" opacity="0.54"/>
<rect x="1595.4" y="422.5" width="13.93" height="1.7" opacity="0.55"/>
<rect x="1598.89" y="424" width="13.99" height="1.7" opacity="0.55"/>
<rect x="1602.32" y="425.5" width="14.5" height="1.7" opacity="0.55"/>
<rect x="1605.67" y="427" width="15.1" height="1.7" opacity="0.56"/>
<rect x="1608.91" y="428.5" width="15.7" height="1.7" opacity="0.56"/>
<rect x="1612" y="430" width="16.3" height="1.7" opacity="0.57"/>
<rect x="1614.81" y="431.5" width="16.9" height="1.7" opacity="0.57"/>
<rect x="1617.04" y="433" width="17.5" height="1.7" opacity="0.58"/>
<rect x="1618.39" y="434.5" width="18.1" height="1.7" opacity="0.58"/>
<rect x="1619.53" y="436" width="18.7" height="1.7" opacity="0.59"/>
<rect x="1620.42" y="437.5" width="19.3" height="1.7" opacity="0.59"/>
<rect x="1621.2" y="439" width="19.9" height="1.7" opacity="0.6"/>
</g>
<g fill="url(#wB)" filter="url(#bl11)">
<rect x="1619.42" y="545" width="19.7" height="1.7" opacity="0.6"/>
<rect x="1618.29" y="546.5" width="19.1" height="1.7" opacity="0.59"/>
<rect x="1617.05" y="548" width="18.5" height="1.7" opacity="0.59"/>
<rect x="1615.68" y="549.5" width="17.9" height="1.7" opacity="0.58"/>
<rect x="1613.97" y="551" width="17.3" height="1.7" opacity="0.58"/>
<rect x="1611.78" y="552.5" width="16.7" height="1.7" opacity="0.57"/>
<rect x="1609.1" y="554" width="16.1" height="1.7" opacity="0.57"/>
<rect x="1605.99" y="555.5" width="15.5" height="1.7" opacity="0.56"/>
<rect x="1602.49" y="557" width="14.9" height="1.7" opacity="0.56"/>
<rect x="1598.64" y="558.5" width="14.3" height="1.7" opacity="0.55"/>
<rect x="1594.54" y="560" width="13.97" height="1.7" opacity="0.55"/>
<rect x="1590.31" y="561.5" width="13.9" height="1.7" opacity="0.55"/>
<rect x="1586" y="563" width="13.84" height="1.7" opacity="0.54"/>
<rect x="1581.6" y="564.5" width="13.77" height="1.7" opacity="0.54"/>
<rect x="1577.1" y="566" width="13.71" height="1.7" opacity="0.54"/>
<rect x="1572.56" y="567.5" width="13.64" height="1.7" opacity="0.53"/>
<rect x="1567.95" y="569" width="13.58" height="1.7" opacity="0.53"/>
<rect x="1563.31" y="570.5" width="13.51" height="1.7" opacity="0.53"/>
<rect x="1558.62" y="572" width="13.45" height="1.7" opacity="0.52"/>
<rect x="1553.92" y="573.5" width="13.38" height="1.7" opacity="0.52"/>
<rect x="1549.16" y="575" width="13.32" height="1.7" opacity="0.52"/>
<rect x="1544.39" y="576.5" width="13.25" height="1.7" opacity="0.51"/>
<rect x="1539.5" y="578" width="13.18" height="1.7" opacity="0.51"/>
<rect x="1534.57" y="579.5" width="13.12" height="1.7" opacity="0.51"/>
<rect x="1529.46" y="581" width="13.05" height="1.7" opacity="0.5"/>
<rect x="1524.35" y="582.5" width="12.99" height="1.7" opacity="0.5"/>
<rect x="1519.21" y="584" width="12.92" height="1.7" opacity="0.5"/>
<rect x="1514.13" y="585.5" width="12.86" height="1.7" opacity="0.49"/>
<rect x="1509.1" y="587" width="12.79" height="1.7" opacity="0.49"/>
<rect x="1504.25" y="588.5" width="12.73" height="1.7" opacity="0.49"/>
<rect x="1499.46" y="590" width="12.66" height="1.7" opacity="0.48"/>
<rect x="1494.95" y="591.5" width="12.6" height="1.7" opacity="0.48"/>
<rect x="1490.44" y="593" width="12.53" height="1.7" opacity="0.48"/>
<rect x="1486.09" y="594.5" width="12.47" height="1.7" opacity="0.47"/>
<rect x="1481.75" y="596" width="12.4" height="1.7" opacity="0.47"/>
<rect x="1477.47" y="597.5" width="12.34" height="1.7" opacity="0.47"/>
<rect x="1473.22" y="599" width="12.27" height="1.7" opacity="0.46"/>
<rect x="1468.98" y="600.5" width="12.21" height="1.7" opacity="0.46"/>
<rect x="1464.77" y="602" width="12.14" height="1.7" opacity="0.46"/>
<rect x="1460.54" y="603.5" width="12.08" height="1.7" opacity="0.45"/>
<rect x="1457" y="605" width="12.01" height="1.7" opacity="0.45"/>
<rect x="1457" y="606.5" width="12" height="1.7" opacity="0.45"/>
</g>
<g fill="url(#wE)" filter="url(#bl11)">
<rect x="1621.75" y="440" width="72.75" height="1.7" opacity="0.52"/>
<rect x="1622.57" y="441.5" width="80.93" height="1.7" opacity="0.56"/>
<rect x="1623.37" y="443" width="89.13" height="1.7" opacity="0.59"/>
<rect x="1624.18" y="444.5" width="97.32" height="1.7" opacity="0.63"/>
<rect x="1625.07" y="446" width="105.43" height="1.7" opacity="0.67"/>
<rect x="1626.06" y="447.5" width="113.44" height="1.7" opacity="0.7"/>
<rect x="1627.2" y="449" width="121.3" height="1.7" opacity="0.73"/>
<rect x="1628.53" y="450.5" width="124.39" height="1.7" opacity="0.75"/>
<rect x="1630.11" y="452" width="126.3" height="1.7" opacity="0.77"/>
<rect x="1631.9" y="453.5" width="128.02" height="1.7" opacity="0.79"/>
<rect x="1633.78" y="455" width="129.63" height="1.7" opacity="0.82"/>
<rect x="1635.75" y="456.5" width="131.17" height="1.7" opacity="0.84"/>
<rect x="1637.79" y="458" width="132.62" height="1.7" opacity="0.85"/>
<rect x="1639.95" y="459.5" width="133.97" height="1.7" opacity="0.86"/>
<rect x="1642.26" y="461" width="135.15" height="1.7" opacity="0.86"/>
<rect x="1644.88" y="462.5" width="136.04" height="1.7" opacity="0.87"/>
<rect x="1648.03" y="464" width="136.38" height="1.7" opacity="0.87"/>
<rect x="1651.68" y="465.5" width="133.8" height="1.7" opacity="0.88"/>
<rect x="1655.29" y="467" width="130.77" height="1.7" opacity="0.88"/>
<rect x="1658.57" y="468.5" width="128.06" height="1.7" opacity="0.88"/>
<rect x="1661.74" y="470" width="125.48" height="1.7" opacity="0.89"/>
<rect x="1664.84" y="471.5" width="122.95" height="1.7" opacity="0.89"/>
<rect x="1667.81" y="473" width="120.56" height="1.7" opacity="0.9"/>
<rect x="1670.58" y="474.5" width="118.36" height="1.7" opacity="0.9"/>
<rect x="1673.1" y="476" width="116.42" height="1.7" opacity="0.91"/>
<rect x="1675.39" y="477.5" width="114.7" height="1.7" opacity="0.91"/>
<rect x="1677.49" y="479" width="113.19" height="1.7" opacity="0.92"/>
<rect x="1679.33" y="480.5" width="111.92" height="1.7" opacity="0.92"/>
<rect x="1680.89" y="482" width="110.93" height="1.7" opacity="0.92"/>
<rect x="1682.12" y="483.5" width="110.29" height="1.7" opacity="0.93"/>
<rect x="1682.97" y="485" width="110.01" height="1.7" opacity="0.93"/>
<rect x="1683.5" y="486.5" width="110.06" height="1.7" opacity="0.94"/>
<rect x="1683.77" y="488" width="110.36" height="1.7" opacity="0.94"/>
<rect x="1683.88" y="489.5" width="110.83" height="1.7" opacity="0.95"/>
<rect x="1683.89" y="491" width="110.83" height="1.7" opacity="0.95"/>
<rect x="1683.79" y="492.5" width="110.35" height="1.7" opacity="0.94"/>
<rect x="1683.56" y="494" width="110" height="1.7" opacity="0.94"/>
<rect x="1683.18" y="495.5" width="109.8" height="1.7" opacity="0.93"/>
<rect x="1682.63" y="497" width="109.77" height="1.7" opacity="0.93"/>
<rect x="1681.78" y="498.5" width="110.04" height="1.7" opacity="0.92"/>
<rect x="1679.59" y="500" width="111.66" height="1.7" opacity="0.92"/>
<rect x="1676.3" y="501.5" width="114.37" height="1.7" opacity="0.92"/>
<rect x="1673.29" y="503" width="116.81" height="1.7" opacity="0.91"/>
<rect x="1670.22" y="504.5" width="119.3" height="1.7" opacity="0.91"/>
<rect x="1667.14" y="506" width="121.8" height="1.7" opacity="0.9"/>
<rect x="1664.08" y="507.5" width="124.28" height="1.7" opacity="0.9"/>
<rect x="1661.09" y="509" width="126.7" height="1.7" opacity="0.89"/>
<rect x="1658.15" y="510.5" width="129.07" height="1.7" opacity="0.89"/>
<rect x="1655.33" y="512" width="131.3" height="1.7" opacity="0.88"/>
<rect x="1652.62" y="513.5" width="133.44" height="1.7" opacity="0.88"/>
<rect x="1649.98" y="515" width="135.5" height="1.7" opacity="0.88"/>
<rect x="1647.43" y="516.5" width="136.99" height="1.7" opacity="0.87"/>
<rect x="1644.96" y="518" width="135.96" height="1.7" opacity="0.87"/>
<rect x="1642.57" y="519.5" width="134.85" height="1.7" opacity="0.86"/>
<rect x="1640.31" y="521" width="133.61" height="1.7" opacity="0.86"/>
<rect x="1638.18" y="522.5" width="132.23" height="1.7" opacity="0.85"/>
<rect x="1636.17" y="524" width="130.75" height="1.7" opacity="0.84"/>
<rect x="1634.32" y="525.5" width="129.09" height="1.7" opacity="0.82"/>
<rect x="1632.63" y="527" width="127.29" height="1.7" opacity="0.8"/>
<rect x="1631.03" y="528.5" width="125.39" height="1.7" opacity="0.78"/>
<rect x="1629.54" y="530" width="123.37" height="1.7" opacity="0.77"/>
<rect x="1628.17" y="531.5" width="120.67" height="1.7" opacity="0.75"/>
<rect x="1626.87" y="533" width="115.06" height="1.7" opacity="0.73"/>
<rect x="1625.62" y="534.5" width="109.38" height="1.7" opacity="0.71"/>
<rect x="1624.56" y="536" width="103.51" height="1.7" opacity="0.68"/>
<rect x="1623.61" y="537.5" width="97.55" height="1.7" opacity="0.65"/>
<rect x="1622.78" y="539" width="91.45" height="1.7" opacity="0.62"/>
<rect x="1622.01" y="540.5" width="85.29" height="1.7" opacity="0.58"/>
<rect x="1621.24" y="542" width="79.14" height="1.7" opacity="0.55"/>
<rect x="1620.43" y="543.5" width="73.04" height="1.7" opacity="0.52"/>
</g>
<path d="M1626 438 L1626.83 436.82 L1627.94 435.21 L1629.27 433.29 L1630.76 431.2 L1632.36 429.06 L1634 427 L1635.74 424.94 L1637.64 422.77 L1639.64 420.54 L1641.69 418.34 L1643.73 416.24 L1645.7 414.3 L1647.57 412.54 L1649.38 410.89 L1651.18 409.34 L1653.01 407.86 L1654.94 406.42 L1657 405 L1659 403.64 L1660.86 402.38 L1662.81 401.16 L1665.08 399.93 L1667.9 398.63 L1671.5 397.2 L1676.07 395.58 L1681.47 393.79 L1687.42 391.93 L1693.64 390.1 L1699.86 388.39 L1705.8 386.9 L1711.32 385.7 L1716.6 384.72 L1721.88 383.87 L1727.39 383.03 L1733.35 382.11 L1740 381 L1747.5 379.62 L1755.7 378.04 L1764.35 376.38 L1773.21 374.74 L1782.05 373.25 L1790.6 372 L1799.47 371 L1808.99 370.15 L1818.46 369.44 L1827.24 368.85 L1834.64 368.38 L1840 368" fill="none" stroke="url(#fa0)" stroke-width="12" stroke-linejoin="round" stroke-linecap="round" opacity="0.35" filter="url(#bl12)" />
<path d="M1626 438 L1626.83 436.82 L1627.94 435.21 L1629.27 433.29 L1630.76 431.2 L1632.36 429.06 L1634 427 L1635.74 424.94 L1637.64 422.77 L1639.64 420.54 L1641.69 418.34 L1643.73 416.24 L1645.7 414.3 L1647.57 412.54 L1649.38 410.89 L1651.18 409.34 L1653.01 407.86 L1654.94 406.42 L1657 405 L1659 403.64 L1660.86 402.38 L1662.81 401.16 L1665.08 399.93 L1667.9 398.63 L1671.5 397.2 L1676.07 395.58 L1681.47 393.79 L1687.42 391.93 L1693.64 390.1 L1699.86 388.39 L1705.8 386.9 L1711.32 385.7 L1716.6 384.72 L1721.88 383.87 L1727.39 383.03 L1733.35 382.11 L1740 381 L1747.5 379.62 L1755.7 378.04 L1764.35 376.38 L1773.21 374.74 L1782.05 373.25 L1790.6 372 L1799.47 371 L1808.99 370.15 L1818.46 369.44 L1827.24 368.85 L1834.64 368.38 L1840 368" fill="none" stroke="url(#fa0)" stroke-width="4.6" stroke-linejoin="round" stroke-linecap="round" opacity="0.9" filter="url(#bl13)" />
<path d="M1700 463 L1701.99 461.75 L1704.76 459.97 L1708.04 457.89 L1711.53 455.72 L1714.94 453.68 L1718 452 L1720.67 450.73 L1723.19 449.7 L1725.63 448.81 L1728.09 447.94 L1730.65 446.97 L1733.4 445.8 L1736.15 444.42 L1738.79 442.92 L1741.53 441.33 L1744.59 439.66 L1748.17 437.94 L1752.5 436.2 L1757.75 434.38 L1763.79 432.46 L1770.36 430.49 L1777.2 428.53 L1784.03 426.61 L1790.6 424.8 L1797.06 423.04 L1803.65 421.28 L1810.24 419.58 L1816.7 417.97 L1822.9 416.53 L1828.7 415.3 L1833.97 414.31 L1838.79 413.53 L1843.34 412.9 L1847.81 412.39 L1852.41 411.93 L1857.3 411.5 L1862.89 411.1 L1869.11 410.77 L1875.44 410.51 L1881.37 410.3 L1886.39 410.14 L1890 410" fill="none" stroke="url(#fa1)" stroke-width="12" stroke-linejoin="round" stroke-linecap="round" opacity="0.35" filter="url(#bl12)" />
<path d="M1700 463 L1701.99 461.75 L1704.76 459.97 L1708.04 457.89 L1711.53 455.72 L1714.94 453.68 L1718 452 L1720.67 450.73 L1723.19 449.7 L1725.63 448.81 L1728.09 447.94 L1730.65 446.97 L1733.4 445.8 L1736.15 444.42 L1738.79 442.92 L1741.53 441.33 L1744.59 439.66 L1748.17 437.94 L1752.5 436.2 L1757.75 434.38 L1763.79 432.46 L1770.36 430.49 L1777.2 428.53 L1784.03 426.61 L1790.6 424.8 L1797.06 423.04 L1803.65 421.28 L1810.24 419.58 L1816.7 417.97 L1822.9 416.53 L1828.7 415.3 L1833.97 414.31 L1838.79 413.53 L1843.34 412.9 L1847.81 412.39 L1852.41 411.93 L1857.3 411.5 L1862.89 411.1 L1869.11 410.77 L1875.44 410.51 L1881.37 410.3 L1886.39 410.14 L1890 410" fill="none" stroke="url(#fa1)" stroke-width="4.6" stroke-linejoin="round" stroke-linecap="round" opacity="0.9" filter="url(#bl13)" />
<path d="M1618 546 L1619.06 547.09 L1620.52 548.59 L1622.25 550.38 L1624.15 552.3 L1626.1 554.22 L1628 556 L1629.88 557.67 L1631.85 559.33 L1633.88 561 L1635.93 562.67 L1637.98 564.33 L1640 566 L1641.98 567.68 L1643.95 569.39 L1645.91 571.09 L1647.9 572.77 L1649.92 574.41 L1652 576 L1653.92 577.47 L1655.63 578.83 L1657.37 580.15 L1659.41 581.5 L1662 582.96 L1665.4 584.6 L1669.66 586.5 L1674.59 588.63 L1680.07 590.87 L1685.98 593.09 L1692.2 595.17 L1698.6 597 L1705.34 598.55 L1712.54 599.92 L1720.06 601.15 L1727.72 602.29 L1735.39 603.39 L1742.9 604.5 L1750.3 605.62 L1757.72 606.7 L1765.14 607.75 L1772.54 608.74 L1779.9 609.66 L1787.2 610.5 L1794.92 611.27 L1803.16 611.98 L1811.37 612.62 L1818.96 613.19 L1825.36 613.65 L1830 614" fill="none" stroke="url(#fa2)" stroke-width="12" stroke-linejoin="round" stroke-linecap="round" opacity="0.35" filter="url(#bl12)" />
<path d="M1618 546 L1619.06 547.09 L1620.52 548.59 L1622.25 550.38 L1624.15 552.3 L1626.1 554.22 L1628 556 L1629.88 557.67 L1631.85 559.33 L1633.88 561 L1635.93 562.67 L1637.98 564.33 L1640 566 L1641.98 567.68 L1643.95 569.39 L1645.91 571.09 L1647.9 572.77 L1649.92 574.41 L1652 576 L1653.92 577.47 L1655.63 578.83 L1657.37 580.15 L1659.41 581.5 L1662 582.96 L1665.4 584.6 L1669.66 586.5 L1674.59 588.63 L1680.07 590.87 L1685.98 593.09 L1692.2 595.17 L1698.6 597 L1705.34 598.55 L1712.54 599.92 L1720.06 601.15 L1727.72 602.29 L1735.39 603.39 L1742.9 604.5 L1750.3 605.62 L1757.72 606.7 L1765.14 607.75 L1772.54 608.74 L1779.9 609.66 L1787.2 610.5 L1794.92 611.27 L1803.16 611.98 L1811.37 612.62 L1818.96 613.19 L1825.36 613.65 L1830 614" fill="none" stroke="url(#fa2)" stroke-width="4.6" stroke-linejoin="round" stroke-linecap="round" opacity="0.9" filter="url(#bl13)" />
<path d="M1709.6 515.5 L1712.02 516.92 L1715.36 518.87 L1719.31 521.18 L1723.58 523.71 L1727.84 526.3 L1731.8 528.8 L1735.37 531.28 L1738.79 533.89 L1742.21 536.55 L1745.79 539.21 L1749.66 541.82 L1754 544.3 L1758.77 546.7 L1763.84 549.06 L1769.22 551.37 L1774.91 553.58 L1780.9 555.67 L1787.2 557.6 L1794.18 559.38 L1801.93 561.03 L1809.99 562.55 L1817.89 563.95 L1825.18 565.23 L1831.4 566.4 L1836.27 567.43 L1840.09 568.31 L1843.3 569.07 L1846.33 569.74 L1849.62 570.34 L1853.6 570.9 L1858.66 571.41 L1864.55 571.86 L1870.69 572.23 L1876.52 572.54 L1881.48 572.8 L1885 573" fill="none" stroke="url(#fa3)" stroke-width="12" stroke-linejoin="round" stroke-linecap="round" opacity="0.35" filter="url(#bl12)" />
<path d="M1709.6 515.5 L1712.02 516.92 L1715.36 518.87 L1719.31 521.18 L1723.58 523.71 L1727.84 526.3 L1731.8 528.8 L1735.37 531.28 L1738.79 533.89 L1742.21 536.55 L1745.79 539.21 L1749.66 541.82 L1754 544.3 L1758.77 546.7 L1763.84 549.06 L1769.22 551.37 L1774.91 553.58 L1780.9 555.67 L1787.2 557.6 L1794.18 559.38 L1801.93 561.03 L1809.99 562.55 L1817.89 563.95 L1825.18 565.23 L1831.4 566.4 L1836.27 567.43 L1840.09 568.31 L1843.3 569.07 L1846.33 569.74 L1849.62 570.34 L1853.6 570.9 L1858.66 571.41 L1864.55 571.86 L1870.69 572.23 L1876.52 572.54 L1881.48 572.8 L1885 573" fill="none" stroke="url(#fa3)" stroke-width="4.6" stroke-linejoin="round" stroke-linecap="round" opacity="0.9" filter="url(#bl13)" />
<path d="M1457 378 L1459.91 378.92 L1463.99 380.22 L1468.78 381.73 L1473.81 383.31 L1478.6 384.8 L1483.19 386.21 L1487.89 387.65 L1492.66 389.09 L1497.44 390.51 L1502.2 391.9 L1506.94 393.22 L1511.68 394.49 L1516.42 395.74 L1521.16 397.03 L1525.9 398.4 L1530.63 399.86 L1535.35 401.37 L1540.06 402.93 L1544.78 404.51 L1549.5 406.1 L1554.22 407.69 L1558.94 409.28 L1563.66 410.9 L1568.38 412.57 L1573.1 414.3 L1577.91 416.14 L1582.82 418.07 L1587.68 420.03 L1592.36 421.96 L1596.7 423.8 L1600.83 425.59 L1604.83 427.37 L1608.54 429.07 L1611.79 430.64 L1614.4 432 L1616.21 433.1 L1617.33 433.97 L1618.01 434.72 L1618.52 435.43 L1619.1 436.2 L1619.69 436.96 L1620.11 437.65 L1620.48 438.36 L1620.9 439.21 L1621.5 440.3" fill="none" stroke="url(#fln)" stroke-width="5" stroke-linejoin="round" stroke-linecap="round" opacity="0.9" filter="url(#bl8)" />
<path d="M1618.9 546.5 L1617.48 548.26 L1616.14 549.81 L1614.62 551.27 L1612.66 552.73 L1610 554.3 L1606.78 555.91 L1603.18 557.48 L1598.97 559.13 L1593.95 560.97 L1587.9 563.1 L1580.46 565.64 L1571.78 568.51 L1562.39 571.55 L1552.82 574.6 L1543.6 577.5 L1534.71 580.21 L1525.78 582.83 L1516.88 585.43 L1508.03 588.07 L1499.3 590.8 L1490.04 593.89 L1480.21 597.28 L1470.78 600.61 L1462.72 603.48 L1457 605.5" fill="none" stroke="url(#fln)" stroke-width="5" stroke-linejoin="round" stroke-linecap="round" opacity="0.9" filter="url(#bl8)" />
<path d="M1620.9 439.21 L1621.5 440.3 L1622.29 441.73 L1623.19 443.43 L1624.19 445.25 L1625.23 447.03 L1626.3 448.6 L1627.32 449.9 L1628.3 451.02 L1629.36 452.08 L1630.62 453.2 L1632.2 454.5 L1634.16 456.05 L1636.43 457.77 L1638.9 459.54 L1641.46 461.26 L1644 462.8 L1646.52 464.09 L1649.08 465.21 L1651.71 466.26 L1654.41 467.36 L1657.2 468.6 L1660.2 470.02 L1663.41 471.55 L1666.63 473.14 L1669.69 474.74 L1672.4 476.3 L1674.78 477.83 L1676.97 479.35 L1678.91 480.86 L1680.57 482.38 L1681.9 483.9 L1682.84 485.42 L1683.43 486.94 L1683.75 488.46 L1683.88 489.98 L1683.9 491.5 L1683.81 493.09 L1683.56 494.76 L1683.14 496.38 L1682.59 497.87 L1681.9 499.1 L1681.29 499.88 L1680.75 500.28 L1679.96 500.6 L1678.62 501.14 L1676.4 502.2 L1672.97 503.91 L1668.54 506.06 L1663.62 508.48 L1658.7 510.95 L1654.3 513.3 L1650.37 515.52 L1646.59 517.74 L1642.99 519.97 L1639.65 522.19 L1636.6 524.4 L1633.89 526.6 L1631.47 528.8 L1629.3 531 L1627.33 533.2 L1625.5 535.4 L1623.93 537.67 L1622.65 539.99 L1621.49 542.29 L1620.3 544.49 L1618.9 546.5 L1617.48 548.26" fill="none" stroke="#e0608c" stroke-width="2.6" stroke-linejoin="round" stroke-linecap="round" opacity="0.95" filter="url(#bl14)" stroke-dasharray="2.2 1.2"/>
<line x1="1457.2" y1="452.1" x2="1908.9" y2="452.1" stroke="#f50000" stroke-width="5.3" stroke-dasharray="16.9 7.6"/>
<line x1="1457.2" y1="531.5" x2="1908.9" y2="531.5" stroke="#f50000" stroke-width="5.3" stroke-dasharray="16.9 7.6"/>
</g>
<rect x="1543" y="646.4" width="346" height="83.4" fill="#fff" />
<rect x="1574.8" y="655.6" width="288.5" height="14.4" fill="url(#cbm)" stroke="#000" stroke-width="1.2" />
<line x1="1574.8" y1="670" x2="1574.8" y2="675.3" stroke="#000" stroke-width="1.3" />
<text x="1574.8" y="697.2" font-size="19.8" text-anchor="middle" font-family="'DejaVu Sans', sans-serif">-12.0</text>
<line x1="1632.5" y1="670" x2="1632.5" y2="675.3" stroke="#000" stroke-width="1.3" />
<text x="1632.5" y="697.2" font-size="19.8" text-anchor="middle" font-family="'DejaVu Sans', sans-serif">-10.0</text>
<line x1="1690.2" y1="670" x2="1690.2" y2="675.3" stroke="#000" stroke-width="1.3" />
<text x="1690.2" y="697.2" font-size="19.8" text-anchor="middle" font-family="'DejaVu Sans', sans-serif">-8.0</text>
<line x1="1747.9" y1="670" x2="1747.9" y2="675.3" stroke="#000" stroke-width="1.3" />
<text x="1747.9" y="697.2" font-size="19.8" text-anchor="middle" font-family="'DejaVu Sans', sans-serif">-6.0</text>
<line x1="1805.6" y1="670" x2="1805.6" y2="675.3" stroke="#000" stroke-width="1.3" />
<text x="1805.6" y="697.2" font-size="19.8" text-anchor="middle" font-family="'DejaVu Sans', sans-serif">-4.0</text>
<line x1="1863.3" y1="670" x2="1863.3" y2="675.3" stroke="#000" stroke-width="1.3" />
<text x="1863.3" y="697.2" font-size="19.8" text-anchor="middle" font-family="'DejaVu Sans', sans-serif">-2.0</text>
<text x="1716" y="721.2" font-size="21.5" text-anchor="middle">log slip velocity (m/s)</text>
<rect x="1457.2" y="230.6" width="451.7" height="521.4" fill="none" stroke="#000" stroke-width="4.3" />
<line x1="1449.2" y1="230.6" x2="1457.2" y2="230.6" stroke="#000" stroke-width="1.6" />
<text x="1440.5" y="238.2" font-size="21.8" text-anchor="end">0</text>
<line x1="1449.2" y1="309.98" x2="1457.2" y2="309.98" stroke="#000" stroke-width="1.6" />
<text x="1440.5" y="317.58" font-size="21.8" text-anchor="end">50</text>
<line x1="1449.2" y1="389.36" x2="1457.2" y2="389.36" stroke="#000" stroke-width="1.6" />
<text x="1440.5" y="396.96" font-size="21.8" text-anchor="end">100</text>
<line x1="1449.2" y1="468.74" x2="1457.2" y2="468.74" stroke="#000" stroke-width="1.6" />
<text x="1440.5" y="476.34" font-size="21.8" text-anchor="end">150</text>
<line x1="1449.2" y1="548.12" x2="1457.2" y2="548.12" stroke="#000" stroke-width="1.6" />
<text x="1440.5" y="555.72" font-size="21.8" text-anchor="end">200</text>
<line x1="1449.2" y1="627.5" x2="1457.2" y2="627.5" stroke="#000" stroke-width="1.6" />
<text x="1440.5" y="635.1" font-size="21.8" text-anchor="end">250</text>
<line x1="1449.2" y1="706.88" x2="1457.2" y2="706.88" stroke="#000" stroke-width="1.6" />
<text x="1440.5" y="714.48" font-size="21.8" text-anchor="end">300</text>
<line x1="1564.3" y1="752" x2="1564.3" y2="759.5" stroke="#000" stroke-width="1.6" />
<text x="1564.3" y="784.5" font-size="21.8" text-anchor="middle">50</text>
<line x1="1707" y1="752" x2="1707" y2="759.5" stroke="#000" stroke-width="1.6" />
<text x="1707" y="784.5" font-size="21.8" text-anchor="middle">100</text>
<line x1="1849.7" y1="752" x2="1849.7" y2="759.5" stroke="#000" stroke-width="1.6" />
<text x="1849.7" y="784.5" font-size="21.8" text-anchor="middle">150</text>
<text x="1680.2" y="817.6" font-size="28" text-anchor="middle">Time [days]</text>
<text x="1392.5" y="482.5" font-size="28" text-anchor="middle" transform="rotate(-90 1392.5 482.5)">along strike [km]</text>
<text x="1349.5" y="237.5" font-size="36" font-weight="bold">(f)</text>
<g clip-path="url(#clipg)">
<path d="M126.2 973.32 L127.04 971.71 L127.88 970.78 L128.71 968.76 L129.55 967.79 L130.39 966.18 L131.22 964.43 L132.06 963.44 L132.9 961.54 L133.81 960.46 L134.73 958.63 L135.64 957.18 L136.56 956.04 L137.47 954.97 L138.39 952.8 L139.3 951.42 L140.37 950.33 L141.43 949.15 L142.5 947.28 L143.57 945.6 L144.63 944.68 L145.7 942.25 L146.78 941.76 L147.87 939.89 L148.95 938.44 L150.03 937.12 L151.12 936.01 L152.2 935.22 L153.48 933.44 L154.76 932.7 L156.04 931.62 L157.32 930.21 L158.6 929.25 L160.2 927.79 L161.8 926.81 L163.4 925.98 L165 925.48 L166.62 924.75 L168.25 924.16 L169.88 923.96 L171.5 923.35 L173.1 922.87 L174.7 923.04 L176.3 922.62 L177.9 921.84 L179.7 921.77 L181.5 921.33 L183.3 921.28 L185.1 920.73 L186.9 919.89 L188.63 920.81 L190.37 920.18 L192.1 920.72 L193.38 919.99 L194.67 918.32 L195.95 917.59 L197.23 916.07 L198.52 915.63 L199.8 914.66 L201.08 913.17 L202.37 912.18 L203.65 910.31 L204.93 909.4 L206.22 907.99 L207.5 906.68 L208.54 905.02 L209.58 903.86 L210.62 902.42 L211.66 900.41 L212.7 899.06 L213.72 896.92 L214.74 896.02 L215.76 894.43 L216.78 893.23 L217.8 891.52 L219.34 890.2 L220.88 889.53 L222.42 889.03 L223.96 887.6 L225.5 887.26 L227.12 886.17 L228.75 885.32 L230.38 884.46 L232 884.37 L233.72 883.3 L235.43 882.98 L237.15 882.69 L238.87 882.74 L240.58 881.51 L242.3 881.45 L243.9 881.24 L245.5 881.26 L247.1 880.88 L248.7 880.61 L250.3 879.72 L251.9 879.54 L253.5 879.17 L255.1 879.38 L256.71 879.13 L258.32 878 L259.94 877.7 L261.55 877.43 L263.16 877.11 L264.77 877.03 L266.39 876.81 L268 876.16 L269.4 874.94 L270.8 874.39 L272.2 873.37 L273.6 872.6 L275 872.02 L276.4 870.79 L277.7 868.22" fill="none" stroke="#000" stroke-width="3.8" stroke-linejoin="round"/>
<path d="M277.7 868.2 L279.6 879.6 L284.7 886 L291.2 889.3 L296.3 888.6 L299.5 882.2 L301 862.5 L304.3 875.7 L308.6 890 L318.5 905 L332.8 920.6 L347.1 928.5 L367.1 938.5 L389.9 938.8 L432.7 939.6 L504.1 939.9 L532.6 940.3 L575 940.3" fill="none" stroke="#000" stroke-width="3.8" stroke-linejoin="round"/>
<path d="M229 886.16 L229.3 885.05 L229.6 882.98 L229.9 882.96 L230.2 881.59 L230.5 880.52 L230.8 879.22 L231.1 877.45 L231.4 876.26 L231.7 874.64 L232 874.19 L233.33 873.19 L234.67 872.99 L236 872.99 L237.33 872.73 L238.67 872.78 L240 872.17 L241.25 872.02 L242.5 872.15 L243.75 871.99 L245 872.28 L246.25 871.72 L247.5 872.82 L248.75 872.38 L250 871.64 L251.25 871.7 L252.5 871.75 L253.75 871.69 L255 871.27 L256.25 872.17 L257.5 872.26 L258.75 871.4 L260 871.31 L261.25 870.64 L262.5 870.54 L263.75 870.76 L265 870.54 L266.25 871.21 L267.5 870.16 L268.75 869.85 L270 871.03 L271.17 870.16 L272.33 869.34 L273.5 869.61 L274.67 868.6 L275.83 869.02 L277 869.37 L276.4 870.6 L268 876.4 L255.1 879 L242.3 881.5 L232 884.1 L229 885.5 Z" fill="#000"/>
<g opacity="0.7" fill="#00f" stroke="#00f" stroke-linejoin="round">
<path d="M124 950.6 L138 949.3 L143.2 944.8 L148.3 940.1 L152.2 935.5 L158.6 929.8 L165 926 L171.5 924 L177.9 922.7 L186.9 920.8 L188.2 917 L193.4 898.9 L197.2 888.6 L199.8 883.5 L207.5 877.7 L215.2 871.2 L219.1 870.6 L223 873.8 L229.4 873.2 L250 871.5 L270 870 L277 868.5 L277.6 899 L280.9 901.5 L287.3 905.3 L297.6 906.6 L300.2 905 L301.4 861.2 L302.6 972.7 L305.3 972.9 L332.8 969.4 L432.7 965.8 L504.1 963.6 L576 961" fill="none" stroke-width="3.6"/>
<path d="M148.3 940.1 L158.6 929.8 L171.5 924 L186.9 920.8 L187 921.93 L186.77 924.53 L186.53 926.04 L186.3 926.35 L186.07 926.14 L185.83 927.41 L185.6 928.82 L184.42 929.12 L183.25 929.96 L182.07 932.41 L180.9 932.86 L179.72 933 L178.55 931.56 L177.38 933.72 L176.2 933.09 L175.03 931.86 L173.85 932.26 L172.68 931.68 L171.5 932 L170.33 933.64 L169.15 934.69 L167.98 934.11 L166.81 936.42 L165.64 937.16 L164.46 937.58 L163.29 938.21 L162.12 939.15 L160.95 938.99 L159.77 937.34 L158.6 938.19 L157.31 940.08 L156.03 939.47 L154.74 940.6 L153.45 938.7 L152.16 939.7 L150.88 939.59 L149.59 941.43 L148.3 942.31 Z" stroke="none"/>
<path d="M229.4 872.8 L250 871.5 L270 870 L277 868.5 L277 872.09 L276.95 873.64 L276.9 874.51 L276.85 875.3 L276.8 877.58 L276.75 877.58 L276.7 879.14 L276.65 880.83 L276.6 881.43 L276.55 883.51 L276.5 884.8 L276.45 886.03 L276.4 887.97 L275.76 888.19 L275.11 889.98 L274.47 890.48 L273.83 891.29 L273.19 892.14 L272.54 894.04 L271.9 893.81 L270.67 894.33 L269.44 894.13 L268.21 894.71 L266.98 894.21 L265.75 894.35 L264.52 894.34 L263.29 894.33 L262.06 895.37 L260.83 895.5 L259.6 894.86 L258.37 895.72 L257.13 895.12 L255.9 895.37 L254.67 895.94 L253.44 894.47 L252.21 894.71 L250.98 895.44 L249.75 895.18 L248.52 895.73 L247.29 896.3 L246.06 896.11 L244.83 895.08 L243.6 896.19 L242.3 895.91 L241 894.28 L239.7 893.8 L238.93 892.9 L238.16 892.82 L237.39 892.2 L236.62 890.36 L235.85 889.38 L235.08 889.33 L234.31 888.09 L233.54 886.37 L232.77 886.13 L232 884.19 L231.68 883.39 L231.35 882.55 L231.03 881.33 L230.7 880.26 L230.38 878.58 L230.05 876.39 L229.72 876.25 L229.4 874.74 Z" stroke="none"/>
<path d="M277.6 899 L280.9 901.5 L287.3 905.3 L297.6 906.6 L300.2 905 L300.2 904.96 L300.15 905.49 L300.11 908.17 L300.06 908.09 L300.01 909.35 L299.97 913.36 L299.92 914.97 L299.87 914.64 L299.83 914.64 L299.78 918.57 L299.73 919.51 L299.69 920 L299.64 922.17 L299.59 921.51 L299.55 922.93 L299.5 923.81 L298.34 925.15 L297.18 924.81 L296.02 925.16 L294.86 925.97 L293.7 925.67 L292.42 927.34 L291.14 926.52 L289.87 925.51 L288.59 925.09 L287.31 925.93 L286.03 923.74 L284.76 923.42 L283.48 924.45 L282.2 922.42 L281.05 924.34 L279.9 922.62 L278.75 921.67 L277.6 920.1 Z" stroke="none"/>
</g>
<line x1="298.1" y1="856.4" x2="298.1" y2="977.8" stroke="#f50000" stroke-width="3" stroke-dasharray="10.6 5.1" stroke-dashoffset="-4"/>
</g>
<rect x="126" y="856.4" width="448.6" height="121.4" fill="none" stroke="#000" stroke-width="1.6" />
<line x1="197.5" y1="977.8" x2="197.5" y2="983.3" stroke="#000" stroke-width="1.4" />
<text x="197.5" y="1004.3" font-size="21.3" text-anchor="middle">25</text>
<line x1="282.25" y1="977.8" x2="282.25" y2="983.3" stroke="#000" stroke-width="1.4" />
<text x="282.25" y="1004.3" font-size="21.3" text-anchor="middle">50</text>
<line x1="367" y1="977.8" x2="367" y2="983.3" stroke="#000" stroke-width="1.4" />
<text x="367" y="1004.3" font-size="21.3" text-anchor="middle">75</text>
<line x1="451.75" y1="977.8" x2="451.75" y2="983.3" stroke="#000" stroke-width="1.4" />
<text x="451.75" y="1004.3" font-size="21.3" text-anchor="middle">100</text>
<line x1="536.5" y1="977.8" x2="536.5" y2="983.3" stroke="#000" stroke-width="1.4" />
<text x="536.5" y="1004.3" font-size="21.3" text-anchor="middle">125</text>
<text x="339.7" y="1036" font-size="28" text-anchor="middle">Time [days]</text>
<line x1="122.8" y1="974.52" x2="126" y2="974.52" stroke="#000" stroke-width="1" />
<line x1="122.8" y1="969.86" x2="126" y2="969.86" stroke="#000" stroke-width="1" />
<line x1="122.8" y1="966.06" x2="126" y2="966.06" stroke="#000" stroke-width="1" />
<line x1="122.8" y1="962.84" x2="126" y2="962.84" stroke="#000" stroke-width="1" />
<line x1="122.8" y1="960.06" x2="126" y2="960.06" stroke="#000" stroke-width="1" />
<line x1="122.8" y1="957.6" x2="126" y2="957.6" stroke="#000" stroke-width="1" />
<line x1="120.5" y1="955.4" x2="126" y2="955.4" stroke="#000" stroke-width="1.4" />
<line x1="122.8" y1="940.94" x2="126" y2="940.94" stroke="#000" stroke-width="1" />
<line x1="122.8" y1="932.47" x2="126" y2="932.47" stroke="#000" stroke-width="1" />
<line x1="122.8" y1="926.47" x2="126" y2="926.47" stroke="#000" stroke-width="1" />
<line x1="122.8" y1="921.81" x2="126" y2="921.81" stroke="#000" stroke-width="1" />
<line x1="122.8" y1="918.01" x2="126" y2="918.01" stroke="#000" stroke-width="1" />
<line x1="122.8" y1="914.79" x2="126" y2="914.79" stroke="#000" stroke-width="1" />
<line x1="122.8" y1="912.01" x2="126" y2="912.01" stroke="#000" stroke-width="1" />
<line x1="122.8" y1="909.55" x2="126" y2="909.55" stroke="#000" stroke-width="1" />
<line x1="120.5" y1="907.35" x2="126" y2="907.35" stroke="#000" stroke-width="1.4" />
<line x1="122.8" y1="892.89" x2="126" y2="892.89" stroke="#000" stroke-width="1" />
<line x1="122.8" y1="884.42" x2="126" y2="884.42" stroke="#000" stroke-width="1" />
<line x1="122.8" y1="878.42" x2="126" y2="878.42" stroke="#000" stroke-width="1" />
<line x1="122.8" y1="873.76" x2="126" y2="873.76" stroke="#000" stroke-width="1" />
<line x1="122.8" y1="869.96" x2="126" y2="869.96" stroke="#000" stroke-width="1" />
<line x1="122.8" y1="866.74" x2="126" y2="866.74" stroke="#000" stroke-width="1" />
<line x1="122.8" y1="863.96" x2="126" y2="863.96" stroke="#000" stroke-width="1" />
<line x1="122.8" y1="861.5" x2="126" y2="861.5" stroke="#000" stroke-width="1" />
<line x1="120.5" y1="859.3" x2="126" y2="859.3" stroke="#000" stroke-width="1.4" />
<text x="73.7" y="869.5" font-size="20.6">10</text>
<text x="98.4" y="854.4" font-size="14.2">18</text>
<text x="73.7" y="917.1" font-size="20.6">10</text>
<text x="98.4" y="902" font-size="14.2">17</text>
<text x="73.7" y="965.6" font-size="20.6">10</text>
<text x="98.4" y="950.5" font-size="14.2">16</text>
<line x1="574.6" y1="874.8" x2="580.1" y2="874.8" stroke="#000" stroke-width="1.4" />
<text x="586.7" y="882.4" font-size="22" fill="#0000ff">0.60</text>
<line x1="574.6" y1="953.8" x2="580.1" y2="953.8" stroke="#000" stroke-width="1.4" />
<text x="586.7" y="961.4" font-size="22" fill="#0000ff">0.55</text>
<text x="38.9" y="919.7" font-size="21.8" text-anchor="middle" transform="rotate(-90 38.9 919.7)">Moment rate</text>
<text x="60.9" y="913.4" font-size="21.8" text-anchor="middle" transform="rotate(-90 60.9 913.4)">(N.m/day)</text>
<text x="650.7" y="917.8" font-size="21.9" text-anchor="middle" fill="#0000ff" transform="rotate(-90 650.7 917.8)">stress [MPa]</text>
<text x="0" y="849" font-size="36" font-weight="bold">(g)</text>
<g clip-path="url(#cliph)">
<path d="M781.5 902.2 L801.1 901.3 L827.3 898.9 L853.4 896.3 L879.5 891.8 L905.6 883.9 L918.7 878 L931.8 869.6 L938.3 865.6 L953.3 859.5 L967 873.5 L974.9 883.3 L984 889.8 L997.1 899.2 L1010.1 897.6 L1019.6 897.4 L1031.3 894.4 L1048.3 891.1 L1062.7 884.6 L1075.7 879.3 L1084.9 877.4 L1094 879.3 L1105.8 885.2 L1124.1 902.8 L1145 921.8 L1160.6 931.6 L1195.9 952.5 L1232 974.4" fill="none" stroke="#000" stroke-width="3.6" stroke-linejoin="round"/>
<g opacity="0.7" fill="#00f" stroke="#00f" stroke-linejoin="round">
<path d="M780 886.89 L781.62 888.14 L783.24 888.14 L784.86 888.13 L786.48 885.9 L788.1 887.06 L789.73 886.68 L791.35 885.1 L792.98 886.78 L794.6 886.77 L796.23 884.58 L797.85 886.25 L799.48 884.57 L801.1 884.57 L803.05 885.07 L805 883.86 L806.33 883.29 L807.67 885.16 L809 886.54 L810.3 885.28 L811.6 884.11 L812.9 883.63 L814.2 883.88 L815.84 881.8 L817.48 882.94 L819.11 882.4 L820.75 881.05 L822.39 881.61 L824.02 882.12 L825.66 881.58 L827.3 880.17 L828.92 882.32 L830.55 881.57 L832.17 881.81 L833.8 879.32 L835.42 879.5 L837.05 878.68 L838.67 880.36 L840.3 878.8 L841.94 878.19 L843.57 878.7 L845.21 879.72 L846.85 879.23 L848.49 877.52 L850.12 876.99 L851.76 878.74 L853.4 877.58 L855.02 877.76 L856.65 876.01 L858.27 875.76 L859.9 877.24 L861.52 876.39 L863.15 875.31 L864.77 877.4 L866.4 876.45 L868.04 876.56 L869.67 874.37 L871.31 876.05 L872.95 873.67 L874.59 875.42 L876.23 874.03 L877.86 873.41 L879.5 873.64 L880.96 874.24 L882.41 872.16 L883.87 871.44 L885.32 872.1 L886.78 870.99 L888.23 870.28 L889.69 870.05 L891.14 869.4 L892.6 869.42 L894.04 869.28 L895.49 868.83 L896.93 869.57 L898.38 867.92 L899.82 868.03 L901.27 866.76 L902.71 866.77 L904.16 865.48 L905.6 865.65 L907.06 864.67 L908.51 866.17 L909.97 865.33 L911.42 864.03 L912.88 864.4 L914.33 865.23 L915.79 862.71 L917.24 864.2 L918.7 862.82 L920.34 862.82 L921.98 863.54 L923.61 862.23 L925.25 862.37 L926.89 862.68 L928.52 863.28 L930.16 861.45 L931.8 862.56 L933.47 862.42 L935.14 862.42 L936.81 862.01 L938.49 862.05 L940.16 861.47 L941.83 861.85 L943.5 861.88 L945.08 864.03 L946.66 863.16 L948.24 863.32 L949.82 863.52 L951.4 865.89 L952.7 887.2 L953.3 915.9 L955.3 921.2 L957.2 904.2 L959.2 913.3 L964.4 923.8 L971 927.7 L984 934.9 L997.1 941.4 L1010.1 946 L1023.5 950.5 L1052.2 955.1 L1075.7 956.4 L1084.9 946.6 L1094.7 945.7 L1105.8 973.4 L1150.2 970.1 L1195.9 968.8 L1232 967.1" fill="none" stroke-width="3.6"/>
<path d="M912 862.2 L931.8 861 L943.5 862.5 L951.4 864.5 L951.4 872.75 L950.13 871.92 L948.87 871.92 L947.6 870.7 L946.33 870.75 L945.07 869.73 L943.8 869.63 L942.53 870.53 L941.27 869.44 L940 869.79 L938.75 868.68 L937.5 869.85 L936.25 868.6 L935 869.17 L933.75 868.76 L932.5 868.14 L931.25 866.67 L930 867.4 L928.75 866.93 L927.5 868.56 L926.25 866.07 L925 866.64 L923.82 867.69 L922.64 867.43 L921.45 865.11 L920.27 865.43 L919.09 864.34 L917.91 865.01 L916.73 864.29 L915.55 863.91 L914.36 863.8 L913.18 864.74 L912 865.11 Z" stroke="none"/>
</g>
<line x1="1031.5" y1="854.4" x2="1031.5" y2="979.8" stroke="#f50000" stroke-width="3" stroke-dasharray="10.6 5.1" stroke-dashoffset="-4"/>
</g>
<rect x="781.5" y="854.4" width="449.8" height="125.4" fill="none" stroke="#000" stroke-width="1.6" />
<line x1="906.7" y1="979.8" x2="906.7" y2="985.3" stroke="#000" stroke-width="1.4" />
<text x="906.7" y="1003.3" font-size="21.3" text-anchor="middle">50</text>
<line x1="1034.9" y1="979.8" x2="1034.9" y2="985.3" stroke="#000" stroke-width="1.4" />
<text x="1034.9" y="1003.3" font-size="21.3" text-anchor="middle">100</text>
<line x1="1163.1" y1="979.8" x2="1163.1" y2="985.3" stroke="#000" stroke-width="1.4" />
<text x="1163.1" y="1003.3" font-size="21.3" text-anchor="middle">150</text>
<text x="999.7" y="1035" font-size="28" text-anchor="middle">Time [days]</text>
<line x1="778.3" y1="969.87" x2="781.5" y2="969.87" stroke="#000" stroke-width="1" />
<line x1="778.3" y1="963.15" x2="781.5" y2="963.15" stroke="#000" stroke-width="1" />
<line x1="778.3" y1="958.38" x2="781.5" y2="958.38" stroke="#000" stroke-width="1" />
<line x1="778.3" y1="954.68" x2="781.5" y2="954.68" stroke="#000" stroke-width="1" />
<line x1="778.3" y1="951.66" x2="781.5" y2="951.66" stroke="#000" stroke-width="1" />
<line x1="778.3" y1="949.11" x2="781.5" y2="949.11" stroke="#000" stroke-width="1" />
<line x1="778.3" y1="946.9" x2="781.5" y2="946.9" stroke="#000" stroke-width="1" />
<line x1="778.3" y1="944.95" x2="781.5" y2="944.95" stroke="#000" stroke-width="1" />
<line x1="776" y1="943.2" x2="781.5" y2="943.2" stroke="#000" stroke-width="1.4" />
<line x1="778.3" y1="931.72" x2="781.5" y2="931.72" stroke="#000" stroke-width="1" />
<line x1="778.3" y1="925" x2="781.5" y2="925" stroke="#000" stroke-width="1" />
<line x1="778.3" y1="920.23" x2="781.5" y2="920.23" stroke="#000" stroke-width="1" />
<line x1="778.3" y1="916.53" x2="781.5" y2="916.53" stroke="#000" stroke-width="1" />
<line x1="778.3" y1="913.51" x2="781.5" y2="913.51" stroke="#000" stroke-width="1" />
<line x1="778.3" y1="910.96" x2="781.5" y2="910.96" stroke="#000" stroke-width="1" />
<line x1="778.3" y1="908.75" x2="781.5" y2="908.75" stroke="#000" stroke-width="1" />
<line x1="778.3" y1="906.8" x2="781.5" y2="906.8" stroke="#000" stroke-width="1" />
<line x1="776" y1="905.05" x2="781.5" y2="905.05" stroke="#000" stroke-width="1.4" />
<line x1="778.3" y1="893.57" x2="781.5" y2="893.57" stroke="#000" stroke-width="1" />
<line x1="778.3" y1="886.85" x2="781.5" y2="886.85" stroke="#000" stroke-width="1" />
<line x1="778.3" y1="882.08" x2="781.5" y2="882.08" stroke="#000" stroke-width="1" />
<line x1="778.3" y1="878.38" x2="781.5" y2="878.38" stroke="#000" stroke-width="1" />
<line x1="778.3" y1="875.36" x2="781.5" y2="875.36" stroke="#000" stroke-width="1" />
<line x1="778.3" y1="872.81" x2="781.5" y2="872.81" stroke="#000" stroke-width="1" />
<line x1="778.3" y1="870.6" x2="781.5" y2="870.6" stroke="#000" stroke-width="1" />
<line x1="778.3" y1="868.65" x2="781.5" y2="868.65" stroke="#000" stroke-width="1" />
<line x1="776" y1="866.9" x2="781.5" y2="866.9" stroke="#000" stroke-width="1.4" />
<line x1="778.3" y1="855.42" x2="781.5" y2="855.42" stroke="#000" stroke-width="1" />
<text x="730.2" y="877.1" font-size="20.6">10</text>
<text x="754.9" y="862" font-size="14.2">17</text>
<text x="730.2" y="915" font-size="20.6">10</text>
<text x="754.9" y="899.9" font-size="14.2">16</text>
<text x="730.2" y="953.4" font-size="20.6">10</text>
<text x="754.9" y="938.3" font-size="14.2">15</text>
<line x1="1231.3" y1="896.5" x2="1236.8" y2="896.5" stroke="#000" stroke-width="1.4" />
<text x="1244" y="904.1" font-size="22" fill="#0000ff">0.550</text>
<line x1="1231.3" y1="948" x2="1236.8" y2="948" stroke="#000" stroke-width="1.4" />
<text x="1244" y="955.6" font-size="22" fill="#0000ff">0.525</text>
<text x="694.2" y="920" font-size="21.8" text-anchor="middle" transform="rotate(-90 694.2 920)">Moment rate</text>
<text x="717.2" y="913.9" font-size="21.8" text-anchor="middle" transform="rotate(-90 717.2 913.9)">(N.m/day)</text>
<text x="1318" y="917" font-size="21.9" text-anchor="middle" fill="#0000ff" transform="rotate(-90 1318 917)">stress [MPa]</text>
<text x="678.5" y="847.5" font-size="36" font-weight="bold">(h)</text>
<g clip-path="url(#clipi)">
<path d="M1454.5 940.83 L1456.12 940.92 L1457.75 941.09 L1459.37 940.74 L1461 940.73 L1462.62 941.3 L1464.24 940.68 L1465.87 941.18 L1467.49 941.16 L1469.11 940.72 L1470.74 941.4 L1472.36 941.48 L1473.99 941.32 L1475.61 941.44 L1477.23 941.55 L1478.86 941.05 L1480.48 941.4 L1482.1 941.43 L1483.73 941.74 L1485.35 941.76 L1486.98 941.82 L1488.6 941.67 L1490.21 941.91 L1491.82 941.75 L1493.43 941.75 L1495.04 941.38 L1496.65 941.22 L1498.26 941.31 L1499.87 941.49 L1501.48 941.28 L1503.09 941.87 L1504.7 941.65 L1506.31 941.7 L1507.92 941.7 L1509.53 941.74 L1511.14 941.59 L1512.75 941.2 L1514.36 941.84 L1515.97 941.8 L1517.58 941.6 L1519.19 941.63 L1520.8 941.73 L1522.41 941.18 L1524.02 941.64 L1525.62 941.18 L1527.23 940.96 L1528.84 941.04 L1530.45 941.33 L1532.06 940.84 L1533.67 941.19 L1535.27 941.31 L1536.88 940.85 L1538.49 940.68 L1540.1 940.68 L1541.71 940.69 L1543.32 940.6 L1544.92 940.32 L1546.53 940.18 L1548.14 939.57 L1549.75 939.47 L1551.36 939.39 L1552.97 939.63 L1554.58 939.12 L1556.18 939.17 L1557.79 938.57 L1559.4 938.45 L1561 938.29 L1562.6 938.29 L1564.2 937.98 L1565.8 937.64 L1567.4 937.01 L1569 936.86 L1570.6 936.5 L1572.2 936.17 L1573.81 935.26 L1575.42 935.24 L1577.04 934.05 L1578.65 934.03 L1580.26 933.36 L1581.88 931.99 L1583.49 931.7 L1585.1 931.36 L1586.53 930.61 L1587.97 929.33 L1589.4 928.31 L1590.83 927.4 L1592.27 927.12 L1593.7 925.67 L1595.13 925.1 L1596.57 923.88 L1598 923.32 L1599.17 922.5 L1600.35 920.68 L1601.52 920.07 L1602.69 918.65 L1603.86 917.79 L1605.04 916.48 L1606.21 914.94 L1607.38 914.31 L1608.55 912.82 L1609.73 911.28 L1610.9 910.1 L1611.81 909.02 L1612.73 907.52 L1613.64 905.93 L1614.56 904.33 L1615.47 903.02 L1616.39 901.52 L1617.3 900.47 L1617.78 897.88 L1618.25 896.55 L1618.72 894.7 L1619.2 892.2 L1619.9 879.3 L1620.5 892.5 L1623.7 895 L1636.6 900.2 L1649.5 904 L1662.3 909.2 L1675.2 909.2 L1681.6 906 L1689.3 897.6 L1695.1 887.3 L1697 862.5 L1699 891.2 L1712.5 900.2 L1730.5 902.8 L1749.8 913.1 L1766.5 923.3 L1785.8 936.2 L1815.4 962 L1850.2 969 L1882.3 973.9 L1910 974.6" fill="none" stroke="#000" stroke-width="3.6" stroke-linejoin="round"/>
<path d="M1636 900.52 L1637.29 899.65 L1638.57 899.75 L1639.86 897.92 L1641.14 897.76 L1642.43 897.46 L1643.71 898.55 L1645 897.21 L1646.25 896.54 L1647.5 896.58 L1648.75 896.09 L1650 895.42 L1651.25 895.42 L1652.5 897.05 L1653.75 895.61 L1655 897.05 L1656.3 895.6 L1657.6 895.84 L1658.9 896.63 L1660.2 896.06 L1661.5 896.7 L1662.8 898.29 L1664.1 898.32 L1665.4 898.35 L1666.7 898.11 L1668 898.99 L1669.24 899.06 L1670.47 898.12 L1671.71 898.53 L1672.95 896.92 L1674.18 898.56 L1675.42 897.88 L1676.65 898.61 L1677.89 898.35 L1679.13 897.49 L1680.36 896.92 L1681.6 899.02 L1682.8 896.53 L1684 896.79 L1685.2 895.91 L1686.4 895.23 L1687.6 895.72 L1688.8 895.71 L1690 893.42 L1690.83 893.37 L1691.67 891.52 L1692.5 891.14 L1693.33 889.75 L1694.17 888.2 L1695 887.19 L1695.1 887.3 L1689.3 897.6 L1681.6 906 L1675.2 909.2 L1662.3 909.2 L1649.5 904 L1636.6 900.2 Z" fill="#000"/>
<g opacity="0.7" fill="#00f" stroke="#00f" stroke-linejoin="round">
<path d="M1453 936.08 L1454.62 937.98 L1456.24 936.77 L1457.85 935.94 L1459.47 937.8 L1461.09 937.99 L1462.71 936.41 L1464.33 935.48 L1465.95 935.57 L1467.56 935.22 L1469.18 935.87 L1470.8 935.11 L1472.42 935.46 L1474.04 935.46 L1475.65 936.27 L1477.27 937.1 L1478.89 936.65 L1480.51 935.65 L1482.13 935.6 L1483.75 935.84 L1485.36 935.37 L1486.98 935.21 L1488.6 934.37 L1490.21 934.93 L1491.81 936.82 L1493.42 934.42 L1495.02 935.43 L1496.63 935.74 L1498.24 936.35 L1499.84 934.5 L1501.45 934.61 L1503.06 934.5 L1504.66 934.88 L1506.27 934.97 L1507.88 936.35 L1509.48 936.01 L1511.09 936.03 L1512.69 933.6 L1514.3 933.59 L1515.91 935.37 L1517.52 935.77 L1519.14 934.47 L1520.75 934.67 L1522.36 932.91 L1523.97 933.88 L1525.59 935.26 L1527.2 934.86 L1528.81 934.83 L1530.42 935.03 L1532.04 932.89 L1533.65 932.38 L1535.26 932.39 L1536.88 933.3 L1538.49 933.63 L1540.1 934.24 L1541.78 933.57 L1543.47 933.32 L1545.15 933.6 L1546.84 932.7 L1548.52 932.91 L1550.21 931.43 L1551.89 933.47 L1553.58 931.88 L1555.26 933.76 L1556.95 932.95 L1558.63 931.94 L1560.32 931.4 L1562 931.71 L1563.27 934.05 L1564.53 935.49 L1565.8 935.11 L1567.41 934.43 L1569.03 935.14 L1570.64 934.74 L1572.25 933.64 L1573.86 932.61 L1575.47 933.11 L1577.09 930.89 L1578.7 931.14 L1580.3 931.75 L1581.9 933.31 L1583.5 932.59 L1585.1 933.42 L1586.7 932.44 L1588.3 931.93 L1589.9 932.13 L1591.5 934.29 L1593.11 933.09 L1594.72 931.49 L1596.34 930.2 L1597.95 931.05 L1599.56 931.05 L1601.18 929.85 L1602.79 928.91 L1604.4 929.57 L1606.01 929.98 L1607.62 927.71 L1609.24 926.86 L1610.85 927.4 L1612.46 927.32 L1614.08 927.74 L1615.69 926.07 L1617.3 927.43 L1618.2 928.67 L1619.1 929.41 L1620 929.97 L1620.9 933.52 L1621.8 933.07 L1622.3 932.93 L1622.8 929.71 L1623.3 928.12 L1623.8 928.06 L1624.3 925.19 L1624.8 925.47 L1625.3 922.62 L1625.8 920.19 L1626.3 918.73 L1627.01 917.69 L1627.72 916.81 L1628.43 916.02 L1629.14 912.2 L1629.86 911.31 L1630.57 909.23 L1631.28 909.78 L1631.99 905.88 L1632.7 904.05 L1634 902.82 L1635.3 902.5 L1643 899 L1655 899 L1668.8 900.5 L1681.6 900.5 L1690 897 L1695.7 889.9 L1697 862.5 L1697.7 898.9 L1697.7 964.5 L1703.5 971 L1728.6 962.6 L1738.2 974.2 L1910 972" fill="none" stroke-width="3.6"/>
<path d="M1636 900.43 L1637.17 899.93 L1638.33 898.94 L1639.5 899.44 L1640.67 898.75 L1641.83 896.14 L1643 895.17 L1644.29 897.56 L1645.58 896.56 L1646.86 893.68 L1648.15 895.64 L1649.44 894.3 L1650.72 893.97 L1652.01 893.51 L1653.3 892.61 L1654.49 892.26 L1655.68 893.5 L1656.88 894 L1658.07 896.42 L1659.26 893.68 L1660.45 896.95 L1661.65 894.47 L1662.84 895.25 L1664.03 897.17 L1665.22 897.42 L1666.42 896.26 L1667.61 895.13 L1668.8 896.9 L1670.08 896.54 L1671.36 898.51 L1672.64 895.89 L1673.92 896.51 L1675.2 898.43 L1676.48 895.31 L1677.76 896.68 L1679.04 898.12 L1680.32 897.96 L1681.6 895.35 L1682.8 894.75 L1684 894.28 L1685.2 896.8 L1686.4 893.84 L1687.6 895.03 L1688.8 895.01 L1690 892.42 L1691.14 891.56 L1692.28 893.41 L1693.42 891.56 L1694.56 889.66 L1695.7 890.68 L1695.7 895.59 L1694.89 897.18 L1694.07 897.75 L1693.26 898.41 L1692.44 899.15 L1691.63 899.34 L1690.81 899.61 L1690 901.31 L1688.8 902.61 L1687.6 902.21 L1686.4 901.12 L1685.2 901.43 L1684 902.44 L1682.8 905.4 L1681.6 905.38 L1680.32 905.88 L1679.04 903.67 L1677.76 904.64 L1676.48 902.92 L1675.2 903.18 L1673.92 903.99 L1672.64 905.96 L1671.36 904.11 L1670.08 903.83 L1668.8 906.52 L1667.51 905.11 L1666.22 905.07 L1664.93 905.21 L1663.64 906.33 L1662.35 907.03 L1661.06 907.32 L1659.77 907.13 L1658.48 907.47 L1657.19 905.35 L1655.9 908.14 L1654.61 906.63 L1653.33 906.45 L1652.04 905.85 L1650.75 906.39 L1649.46 908.48 L1648.17 908.54 L1646.89 906.86 L1645.6 906.04 L1644.4 905.16 L1643.2 908.35 L1642 907.11 L1640.8 908 L1639.6 907.3 L1638.4 904.46 L1637.2 905.32 L1636 905.34 Z" stroke="none"/>
<path d="M1626 918 L1632.7 905 L1636 900 L1636 904.41 L1635.59 909.21 L1635.17 909.11 L1634.76 910.98 L1634.35 909.93 L1633.94 912.28 L1633.53 915.47 L1633.11 914.33 L1632.7 915.31 L1632.14 917.48 L1631.58 919.87 L1631.03 918.11 L1630.47 919.65 L1629.91 920.82 L1629.35 921.8 L1628.79 925.12 L1628.23 924.83 L1627.67 926.77 L1627.12 926.84 L1626.56 930.2 L1626 928.48 Z" stroke="none"/>
</g>
<line x1="1680.2" y1="857.7" x2="1680.2" y2="980.4" stroke="#f50000" stroke-width="3" stroke-dasharray="10.6 5.1" stroke-dashoffset="-4"/>
</g>
<rect x="1454.5" y="857.7" width="454.9" height="122.7" fill="none" stroke="#000" stroke-width="1.6" />
<line x1="1561.4" y1="980.4" x2="1561.4" y2="985.9" stroke="#000" stroke-width="1.4" />
<text x="1561.4" y="1006.3" font-size="21.3" text-anchor="middle">50</text>
<line x1="1704.9" y1="980.4" x2="1704.9" y2="985.9" stroke="#000" stroke-width="1.4" />
<text x="1704.9" y="1006.3" font-size="21.3" text-anchor="middle">100</text>
<line x1="1848.4" y1="980.4" x2="1848.4" y2="985.9" stroke="#000" stroke-width="1.4" />
<text x="1848.4" y="1006.3" font-size="21.3" text-anchor="middle">150</text>
<text x="1687.9" y="1041.6" font-size="28" text-anchor="middle">Time [days]</text>
<line x1="1449" y1="980.85" x2="1454.5" y2="980.85" stroke="#000" stroke-width="1.4" />
<line x1="1451.3" y1="968.91" x2="1454.5" y2="968.91" stroke="#000" stroke-width="1" />
<line x1="1451.3" y1="961.93" x2="1454.5" y2="961.93" stroke="#000" stroke-width="1" />
<line x1="1451.3" y1="956.98" x2="1454.5" y2="956.98" stroke="#000" stroke-width="1" />
<line x1="1451.3" y1="953.14" x2="1454.5" y2="953.14" stroke="#000" stroke-width="1" />
<line x1="1451.3" y1="950" x2="1454.5" y2="950" stroke="#000" stroke-width="1" />
<line x1="1451.3" y1="947.34" x2="1454.5" y2="947.34" stroke="#000" stroke-width="1" />
<line x1="1451.3" y1="945.04" x2="1454.5" y2="945.04" stroke="#000" stroke-width="1" />
<line x1="1451.3" y1="943.01" x2="1454.5" y2="943.01" stroke="#000" stroke-width="1" />
<line x1="1449" y1="941.2" x2="1454.5" y2="941.2" stroke="#000" stroke-width="1.4" />
<line x1="1451.3" y1="929.26" x2="1454.5" y2="929.26" stroke="#000" stroke-width="1" />
<line x1="1451.3" y1="922.28" x2="1454.5" y2="922.28" stroke="#000" stroke-width="1" />
<line x1="1451.3" y1="917.33" x2="1454.5" y2="917.33" stroke="#000" stroke-width="1" />
<line x1="1451.3" y1="913.49" x2="1454.5" y2="913.49" stroke="#000" stroke-width="1" />
<line x1="1451.3" y1="910.35" x2="1454.5" y2="910.35" stroke="#000" stroke-width="1" />
<line x1="1451.3" y1="907.69" x2="1454.5" y2="907.69" stroke="#000" stroke-width="1" />
<line x1="1451.3" y1="905.39" x2="1454.5" y2="905.39" stroke="#000" stroke-width="1" />
<line x1="1451.3" y1="903.36" x2="1454.5" y2="903.36" stroke="#000" stroke-width="1" />
<line x1="1449" y1="901.55" x2="1454.5" y2="901.55" stroke="#000" stroke-width="1.4" />
<line x1="1451.3" y1="889.61" x2="1454.5" y2="889.61" stroke="#000" stroke-width="1" />
<line x1="1451.3" y1="882.63" x2="1454.5" y2="882.63" stroke="#000" stroke-width="1" />
<line x1="1451.3" y1="877.68" x2="1454.5" y2="877.68" stroke="#000" stroke-width="1" />
<line x1="1451.3" y1="873.84" x2="1454.5" y2="873.84" stroke="#000" stroke-width="1" />
<line x1="1451.3" y1="870.7" x2="1454.5" y2="870.7" stroke="#000" stroke-width="1" />
<line x1="1451.3" y1="868.04" x2="1454.5" y2="868.04" stroke="#000" stroke-width="1" />
<line x1="1451.3" y1="865.74" x2="1454.5" y2="865.74" stroke="#000" stroke-width="1" />
<line x1="1451.3" y1="863.71" x2="1454.5" y2="863.71" stroke="#000" stroke-width="1" />
<line x1="1449" y1="861.9" x2="1454.5" y2="861.9" stroke="#000" stroke-width="1.4" />
<text x="1401.1" y="872.1" font-size="20.6">10</text>
<text x="1425.8" y="857" font-size="14.2">18</text>
<text x="1401.1" y="911.8" font-size="20.6">10</text>
<text x="1425.8" y="896.7" font-size="14.2">17</text>
<text x="1401.1" y="951.4" font-size="20.6">10</text>
<text x="1425.8" y="936.3" font-size="14.2">16</text>
<line x1="1909.4" y1="880.2" x2="1914.9" y2="880.2" stroke="#000" stroke-width="1.4" />
<text x="1921.5" y="887.8" font-size="22" fill="#0000ff">1.5</text>
<line x1="1909.4" y1="920.4" x2="1914.9" y2="920.4" stroke="#000" stroke-width="1.4" />
<text x="1921.5" y="928" font-size="22" fill="#0000ff">1.4</text>
<line x1="1909.4" y1="960.6" x2="1914.9" y2="960.6" stroke="#000" stroke-width="1.4" />
<text x="1921.5" y="968.2" font-size="22" fill="#0000ff">1.3</text>
<text x="1364.3" y="922.2" font-size="21.8" text-anchor="middle" transform="rotate(-90 1364.3 922.2)">Moment rate</text>
<text x="1387.3" y="916.4" font-size="21.8" text-anchor="middle" transform="rotate(-90 1387.3 916.4)">(N.m/day)</text>
<text x="1971.2" y="919.8" font-size="21.9" text-anchor="middle" fill="#0000ff" transform="rotate(-90 1971.2 919.8)">stress [MPa]</text>
<text x="1347.5" y="847.6" font-size="36" font-weight="bold">(i)</text>
</svg>
</body></html>
